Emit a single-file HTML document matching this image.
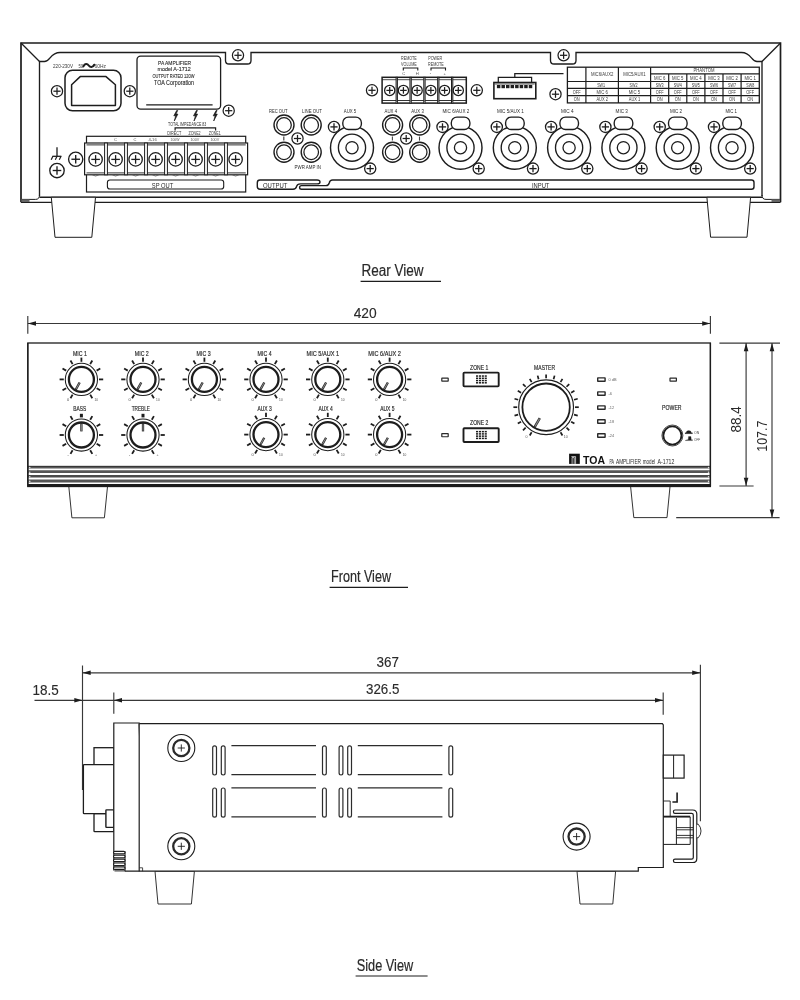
<!DOCTYPE html>
<html lang="en">
<head>
<meta charset="utf-8">
<title>PA Amplifier A-1712 - Rear, Front and Side View</title>
<style>
html,body{margin:0;padding:0;background:#fff;}
body{width:800px;height:1000px;overflow:hidden;}
svg{display:block;font-family:"Liberation Sans",sans-serif;will-change:transform;transform:translateZ(0);}
</style>
</head>
<body>
<svg width="800" height="1000" viewBox="0 0 800 1000">
<rect x="0" y="0" width="800" height="1000" fill="#ffffff"/>
<g id="rear-view">
<path d="M21,202.3 V43 H780.5 V202.3" fill="none" stroke="#1d1d1d" stroke-width="1.7" stroke-linejoin="miter"/>
<line x1="21" y1="202.4" x2="780.5" y2="202.4" stroke="#1d1d1d" stroke-width="1.3"/>
<line x1="21" y1="43" x2="39.5" y2="61.5" stroke="#1d1d1d" stroke-width="1.3"/>
<line x1="780.5" y1="43" x2="762" y2="61.5" stroke="#1d1d1d" stroke-width="1.3"/>
<path d="M39.5,196 V61.5 H44.5 C50.5,61.5 50,52.5 60,52.5 H225.5 V60.5 Q225.5,64 229,64 H247.5 Q251,64 251,60.5 V52.5 H550.5 V60.5 Q550.5,64 554,64 H572.5 Q576,64 576,60.5 V52.5 H741.5 C751.5,52.5 751,61.5 757,61.5 H762 V196" fill="none" stroke="#1d1d1d" stroke-width="1.35"/>
<path d="M39.5,195 Q39.5,199.4 35.5,199.4 H22" fill="none" stroke="#1d1d1d" stroke-width="1"/>
<path d="M762,195 Q762,199.4 766,199.4 H780" fill="none" stroke="#1d1d1d" stroke-width="1"/>
<rect x="21.5" y="199.4" width="8" height="2.6" rx="0" fill="#666" stroke="none" stroke-width="0"/>
<rect x="771.5" y="199.4" width="8.5" height="2.6" rx="0" fill="#666" stroke="none" stroke-width="0"/>
<line x1="39.5" y1="197.3" x2="762" y2="197.3" stroke="#1d1d1d" stroke-width="1.4"/>
<polygon points="51.3,197.25 55,237.3 91.8,237.3 95.5,197.25" fill="#fff" stroke="#1d1d1d" stroke-width="1"/>
<polygon points="706.9,197.25 710.6,237.2 747,237.2 750.6,197.25" fill="#fff" stroke="#1d1d1d" stroke-width="1"/>
<circle cx="238" cy="55.3" r="5.6" fill="#fff" stroke="#1d1d1d" stroke-width="1.25"/>
<line x1="234.4" y1="55.3" x2="241.6" y2="55.3" stroke="#1d1d1d" stroke-width="1.25"/>
<line x1="238" y1="51.7" x2="238" y2="58.9" stroke="#1d1d1d" stroke-width="1.25"/>
<circle cx="563.6" cy="55.3" r="5.6" fill="#fff" stroke="#1d1d1d" stroke-width="1.25"/>
<line x1="560" y1="55.3" x2="567.2" y2="55.3" stroke="#1d1d1d" stroke-width="1.25"/>
<line x1="563.6" y1="51.7" x2="563.6" y2="58.9" stroke="#1d1d1d" stroke-width="1.25"/>
<text x="53" y="67.6" font-size="6" text-anchor="start" fill="#3a3a3a" textLength="20" lengthAdjust="spacingAndGlyphs">220-230V</text>
<text x="78.4" y="67.6" font-size="6" text-anchor="start" fill="#3a3a3a" textLength="4.8" lengthAdjust="spacingAndGlyphs">50</text>
<text x="94.6" y="67.6" font-size="6" text-anchor="start" fill="#3a3a3a" textLength="11.4" lengthAdjust="spacingAndGlyphs">60Hz</text>
<path d="M83.4,66.4 C84.8,63.4 87.2,63.4 88.7,65.5 S92.8,67.8 94.2,64.8" fill="none" stroke="#1d1d1d" stroke-width="2.1" stroke-linecap="round"/>
<rect x="65" y="70.3" width="56" height="40.5" rx="7.5" fill="none" stroke="#1d1d1d" stroke-width="1.5"/>
<path d="M71.6,105.4 V84.8 L80.2,76.6 H106 L115.4,84.8 V105.4 Z" fill="none" stroke="#1d1d1d" stroke-width="1.5" stroke-linejoin="round"/>
<circle cx="57" cy="91.2" r="5.6" fill="#fff" stroke="#1d1d1d" stroke-width="1.25"/>
<line x1="53.4" y1="91.2" x2="60.6" y2="91.2" stroke="#1d1d1d" stroke-width="1.25"/>
<line x1="57" y1="87.6" x2="57" y2="94.8" stroke="#1d1d1d" stroke-width="1.25"/>
<circle cx="129.8" cy="91.2" r="5.6" fill="#fff" stroke="#1d1d1d" stroke-width="1.25"/>
<line x1="126.2" y1="91.2" x2="133.4" y2="91.2" stroke="#1d1d1d" stroke-width="1.25"/>
<line x1="129.8" y1="87.6" x2="129.8" y2="94.8" stroke="#1d1d1d" stroke-width="1.25"/>
<rect x="137" y="56.2" width="83.6" height="52.9" rx="3.6" fill="none" stroke="#1d1d1d" stroke-width="1.3"/>
<line x1="146.2" y1="104.8" x2="212.6" y2="104.8" stroke="#1d1d1d" stroke-width="1.3"/>
<text x="174.5" y="64.8" font-size="6.1" text-anchor="middle" fill="#2a2a2a" textLength="33" lengthAdjust="spacingAndGlyphs" stroke="#2a2a2a" stroke-width="0.12">PA AMPLIFIER</text>
<text x="174.1" y="71" font-size="6.1" text-anchor="middle" fill="#2a2a2a" textLength="33.2" lengthAdjust="spacingAndGlyphs" stroke="#2a2a2a" stroke-width="0.12">model A-1712</text>
<text x="173.5" y="77.5" font-size="5.2" text-anchor="middle" fill="#2a2a2a" textLength="42" lengthAdjust="spacingAndGlyphs" stroke="#2a2a2a" stroke-width="0.1">OUTPUT RATED 120W</text>
<text x="174" y="84.5" font-size="7.2" text-anchor="middle" fill="#2a2a2a" textLength="40" lengthAdjust="spacingAndGlyphs" stroke="#2a2a2a" stroke-width="0.12">TOA Corporation</text>
<circle cx="228.7" cy="110.7" r="5.6" fill="#fff" stroke="#1d1d1d" stroke-width="1.25"/>
<line x1="225.1" y1="110.7" x2="232.3" y2="110.7" stroke="#1d1d1d" stroke-width="1.25"/>
<line x1="228.7" y1="107.1" x2="228.7" y2="114.3" stroke="#1d1d1d" stroke-width="1.25"/>
<path d="M176.7,110.5 l-2.9,5.3 h1.9 l-1.4,5.2 l3.6,-6.9 h-1.9 l1.7,-3.6 z" fill="#1d1d1d" stroke="#1d1d1d" stroke-width="0.7" stroke-linejoin="round"/>
<path d="M196.4,110.5 l-2.9,5.3 h1.9 l-1.4,5.2 l3.6,-6.9 h-1.9 l1.7,-3.6 z" fill="#1d1d1d" stroke="#1d1d1d" stroke-width="0.7" stroke-linejoin="round"/>
<path d="M216.1,110.5 l-2.9,5.3 h1.9 l-1.4,5.2 l3.6,-6.9 h-1.9 l1.7,-3.6 z" fill="#1d1d1d" stroke="#1d1d1d" stroke-width="0.7" stroke-linejoin="round"/>
<text x="187.2" y="126" font-size="4.6" text-anchor="middle" fill="#333" textLength="38.2" lengthAdjust="spacingAndGlyphs">TOTAL IMPEDANCE 83</text>
<path d="M175.1,130.4 V127.8 H215.6 V130.4" fill="none" stroke="#1d1d1d" stroke-width="1.2"/>
<text x="174.3" y="134.8" font-size="4.6" text-anchor="middle" fill="#3a3a3a" textLength="14" lengthAdjust="spacingAndGlyphs">DIRECT</text>
<text x="194.6" y="134.8" font-size="4.6" text-anchor="middle" fill="#3a3a3a" textLength="12" lengthAdjust="spacingAndGlyphs">ZONE2</text>
<text x="214.7" y="134.8" font-size="4.6" text-anchor="middle" fill="#3a3a3a" textLength="12" lengthAdjust="spacingAndGlyphs">ZONE1</text>
<rect x="86.5" y="136.3" width="159.2" height="55.7" rx="0" fill="#fff" stroke="#1d1d1d" stroke-width="1.2"/>
<rect x="84.6" y="143" width="163" height="31.8" rx="0" fill="#fff" stroke="#1d1d1d" stroke-width="1.2"/>
<line x1="86.5" y1="144.9" x2="245.7" y2="144.9" stroke="#1d1d1d" stroke-width="0.9"/>
<line x1="86.5" y1="172.9" x2="245.7" y2="172.9" stroke="#1d1d1d" stroke-width="0.9"/>
<rect x="104.6" y="143" width="2.8" height="31.8" rx="0" fill="#fff" stroke="#1d1d1d" stroke-width="1"/>
<rect x="124.6" y="143" width="2.8" height="31.8" rx="0" fill="#fff" stroke="#1d1d1d" stroke-width="1"/>
<rect x="144.6" y="143" width="2.8" height="31.8" rx="0" fill="#fff" stroke="#1d1d1d" stroke-width="1"/>
<rect x="164.6" y="143" width="2.8" height="31.8" rx="0" fill="#fff" stroke="#1d1d1d" stroke-width="1"/>
<rect x="184.6" y="143" width="2.8" height="31.8" rx="0" fill="#fff" stroke="#1d1d1d" stroke-width="1"/>
<rect x="204.6" y="143" width="2.8" height="31.8" rx="0" fill="#fff" stroke="#1d1d1d" stroke-width="1"/>
<rect x="224.6" y="143" width="2.8" height="31.8" rx="0" fill="#fff" stroke="#1d1d1d" stroke-width="1"/>
<circle cx="95.6" cy="159.4" r="6.7" fill="#fff" stroke="#1d1d1d" stroke-width="1.3"/>
<line x1="91.3" y1="159.4" x2="99.9" y2="159.4" stroke="#1d1d1d" stroke-width="1.3"/>
<line x1="95.6" y1="155.1" x2="95.6" y2="163.7" stroke="#1d1d1d" stroke-width="1.3"/>
<path d="M92.4,174.9 q3.2,2.2 6.4,0" fill="none" stroke="#555" stroke-width="0.8"/>
<circle cx="115.6" cy="159.4" r="6.7" fill="#fff" stroke="#1d1d1d" stroke-width="1.3"/>
<line x1="111.3" y1="159.4" x2="119.9" y2="159.4" stroke="#1d1d1d" stroke-width="1.3"/>
<line x1="115.6" y1="155.1" x2="115.6" y2="163.7" stroke="#1d1d1d" stroke-width="1.3"/>
<path d="M112.4,174.9 q3.2,2.2 6.4,0" fill="none" stroke="#555" stroke-width="0.8"/>
<circle cx="135.6" cy="159.4" r="6.7" fill="#fff" stroke="#1d1d1d" stroke-width="1.3"/>
<line x1="131.3" y1="159.4" x2="139.9" y2="159.4" stroke="#1d1d1d" stroke-width="1.3"/>
<line x1="135.6" y1="155.1" x2="135.6" y2="163.7" stroke="#1d1d1d" stroke-width="1.3"/>
<path d="M132.4,174.9 q3.2,2.2 6.4,0" fill="none" stroke="#555" stroke-width="0.8"/>
<circle cx="155.6" cy="159.4" r="6.7" fill="#fff" stroke="#1d1d1d" stroke-width="1.3"/>
<line x1="151.3" y1="159.4" x2="159.9" y2="159.4" stroke="#1d1d1d" stroke-width="1.3"/>
<line x1="155.6" y1="155.1" x2="155.6" y2="163.7" stroke="#1d1d1d" stroke-width="1.3"/>
<path d="M152.4,174.9 q3.2,2.2 6.4,0" fill="none" stroke="#555" stroke-width="0.8"/>
<circle cx="175.6" cy="159.4" r="6.7" fill="#fff" stroke="#1d1d1d" stroke-width="1.3"/>
<line x1="171.3" y1="159.4" x2="179.9" y2="159.4" stroke="#1d1d1d" stroke-width="1.3"/>
<line x1="175.6" y1="155.1" x2="175.6" y2="163.7" stroke="#1d1d1d" stroke-width="1.3"/>
<path d="M172.4,174.9 q3.2,2.2 6.4,0" fill="none" stroke="#555" stroke-width="0.8"/>
<circle cx="195.6" cy="159.4" r="6.7" fill="#fff" stroke="#1d1d1d" stroke-width="1.3"/>
<line x1="191.3" y1="159.4" x2="199.9" y2="159.4" stroke="#1d1d1d" stroke-width="1.3"/>
<line x1="195.6" y1="155.1" x2="195.6" y2="163.7" stroke="#1d1d1d" stroke-width="1.3"/>
<path d="M192.4,174.9 q3.2,2.2 6.4,0" fill="none" stroke="#555" stroke-width="0.8"/>
<circle cx="215.6" cy="159.4" r="6.7" fill="#fff" stroke="#1d1d1d" stroke-width="1.3"/>
<line x1="211.3" y1="159.4" x2="219.9" y2="159.4" stroke="#1d1d1d" stroke-width="1.3"/>
<line x1="215.6" y1="155.1" x2="215.6" y2="163.7" stroke="#1d1d1d" stroke-width="1.3"/>
<path d="M212.4,174.9 q3.2,2.2 6.4,0" fill="none" stroke="#555" stroke-width="0.8"/>
<circle cx="235.6" cy="159.4" r="6.7" fill="#fff" stroke="#1d1d1d" stroke-width="1.3"/>
<line x1="231.3" y1="159.4" x2="239.9" y2="159.4" stroke="#1d1d1d" stroke-width="1.3"/>
<line x1="235.6" y1="155.1" x2="235.6" y2="163.7" stroke="#1d1d1d" stroke-width="1.3"/>
<path d="M232.4,174.9 q3.2,2.2 6.4,0" fill="none" stroke="#555" stroke-width="0.8"/>
<text x="115.6" y="140.8" font-size="4.1" text-anchor="middle" fill="#555">C</text>
<text x="135" y="140.8" font-size="4.1" text-anchor="middle" fill="#555">C</text>
<text x="152.6" y="140.8" font-size="4.1" text-anchor="middle" fill="#555" textLength="8.4" lengthAdjust="spacingAndGlyphs">4-16</text>
<text x="175" y="140.8" font-size="4.1" text-anchor="middle" fill="#555" textLength="8.8" lengthAdjust="spacingAndGlyphs">100W</text>
<text x="194.9" y="140.8" font-size="4.1" text-anchor="middle" fill="#555" textLength="8.8" lengthAdjust="spacingAndGlyphs">100V</text>
<text x="214.8" y="140.8" font-size="4.1" text-anchor="middle" fill="#555" textLength="8.8" lengthAdjust="spacingAndGlyphs">100V</text>
<rect x="107.4" y="180" width="116.3" height="9" rx="2.6" fill="none" stroke="#1d1d1d" stroke-width="1.1"/>
<text x="162.6" y="187.6" font-size="7.6" text-anchor="middle" fill="#2a2a2a" textLength="21.5" lengthAdjust="spacingAndGlyphs">SP OUT</text>
<circle cx="75.7" cy="159.25" r="7.1" fill="#fff" stroke="#1d1d1d" stroke-width="1.35"/>
<line x1="71.4" y1="159.25" x2="80" y2="159.25" stroke="#1d1d1d" stroke-width="1.35"/>
<line x1="75.7" y1="154.95" x2="75.7" y2="163.55" stroke="#1d1d1d" stroke-width="1.35"/>
<line x1="57" y1="147.2" x2="57" y2="156.3" stroke="#1d1d1d" stroke-width="1.3"/>
<line x1="52.4" y1="156.3" x2="61.4" y2="156.3" stroke="#1d1d1d" stroke-width="1.3"/>
<line x1="52.9" y1="156.3" x2="51.2" y2="159.8" stroke="#1d1d1d" stroke-width="1.2"/>
<line x1="57" y1="156.3" x2="55.3" y2="159.8" stroke="#1d1d1d" stroke-width="1.2"/>
<line x1="61" y1="156.3" x2="59.3" y2="159.8" stroke="#1d1d1d" stroke-width="1.2"/>
<circle cx="57" cy="170.5" r="7.2" fill="#fff" stroke="#1d1d1d" stroke-width="1.35"/>
<line x1="52.7" y1="170.5" x2="61.3" y2="170.5" stroke="#1d1d1d" stroke-width="1.35"/>
<line x1="57" y1="166.2" x2="57" y2="174.8" stroke="#1d1d1d" stroke-width="1.35"/>
<circle cx="284" cy="125" r="10" fill="#fff" stroke="#1d1d1d" stroke-width="1.4"/>
<circle cx="284" cy="125" r="7.3" fill="none" stroke="#1d1d1d" stroke-width="1.25"/>
<circle cx="284" cy="152.2" r="10" fill="#fff" stroke="#1d1d1d" stroke-width="1.4"/>
<circle cx="284" cy="152.2" r="7.3" fill="none" stroke="#1d1d1d" stroke-width="1.25"/>
<circle cx="311.2" cy="125" r="10" fill="#fff" stroke="#1d1d1d" stroke-width="1.4"/>
<circle cx="311.2" cy="125" r="7.3" fill="none" stroke="#1d1d1d" stroke-width="1.25"/>
<circle cx="311.2" cy="152.2" r="10" fill="#fff" stroke="#1d1d1d" stroke-width="1.4"/>
<circle cx="311.2" cy="152.2" r="7.3" fill="none" stroke="#1d1d1d" stroke-width="1.25"/>
<line x1="283.8" y1="136.6" x2="283.8" y2="140.6" stroke="#444" stroke-width="1.2"/>
<circle cx="297.5" cy="138.5" r="5.6" fill="#fff" stroke="#1d1d1d" stroke-width="1.25"/>
<line x1="293.9" y1="138.5" x2="301.1" y2="138.5" stroke="#1d1d1d" stroke-width="1.25"/>
<line x1="297.5" y1="134.9" x2="297.5" y2="142.1" stroke="#1d1d1d" stroke-width="1.25"/>
<text x="278.3" y="112.6" font-size="5.7" text-anchor="middle" fill="#2a2a2a" textLength="18.5" lengthAdjust="spacingAndGlyphs">REC OUT</text>
<text x="312" y="112.6" font-size="5.7" text-anchor="middle" fill="#2a2a2a" textLength="20" lengthAdjust="spacingAndGlyphs">LINE OUT</text>
<text x="307.8" y="169" font-size="5.7" text-anchor="middle" fill="#2a2a2a" textLength="26.5" lengthAdjust="spacingAndGlyphs">PWR AMP IN</text>
<circle cx="352" cy="147.7" r="21.5" fill="#fff" stroke="#1d1d1d" stroke-width="1.45"/>
<circle cx="352" cy="147.7" r="13.6" fill="none" stroke="#1d1d1d" stroke-width="1.35"/>
<circle cx="352" cy="147.7" r="6.1" fill="none" stroke="#1d1d1d" stroke-width="1.3"/>
<rect x="342.8" y="117.1" width="18.6" height="12.4" rx="5.6" fill="#fff" stroke="#1d1d1d" stroke-width="1.35"/>
<circle cx="334" cy="126.9" r="5.6" fill="#fff" stroke="#1d1d1d" stroke-width="1.3"/>
<line x1="330.4" y1="126.9" x2="337.6" y2="126.9" stroke="#1d1d1d" stroke-width="1.3"/>
<line x1="334" y1="123.3" x2="334" y2="130.5" stroke="#1d1d1d" stroke-width="1.3"/>
<circle cx="370.2" cy="168.6" r="5.6" fill="#fff" stroke="#1d1d1d" stroke-width="1.3"/>
<line x1="366.6" y1="168.6" x2="373.8" y2="168.6" stroke="#1d1d1d" stroke-width="1.3"/>
<line x1="370.2" y1="165" x2="370.2" y2="172.2" stroke="#1d1d1d" stroke-width="1.3"/>
<circle cx="460.5" cy="147.7" r="21.5" fill="#fff" stroke="#1d1d1d" stroke-width="1.45"/>
<circle cx="460.5" cy="147.7" r="13.6" fill="none" stroke="#1d1d1d" stroke-width="1.35"/>
<circle cx="460.5" cy="147.7" r="6.1" fill="none" stroke="#1d1d1d" stroke-width="1.3"/>
<rect x="451.3" y="117.1" width="18.6" height="12.4" rx="5.6" fill="#fff" stroke="#1d1d1d" stroke-width="1.35"/>
<circle cx="442.5" cy="126.9" r="5.6" fill="#fff" stroke="#1d1d1d" stroke-width="1.3"/>
<line x1="438.9" y1="126.9" x2="446.1" y2="126.9" stroke="#1d1d1d" stroke-width="1.3"/>
<line x1="442.5" y1="123.3" x2="442.5" y2="130.5" stroke="#1d1d1d" stroke-width="1.3"/>
<circle cx="478.7" cy="168.6" r="5.6" fill="#fff" stroke="#1d1d1d" stroke-width="1.3"/>
<line x1="475.1" y1="168.6" x2="482.3" y2="168.6" stroke="#1d1d1d" stroke-width="1.3"/>
<line x1="478.7" y1="165" x2="478.7" y2="172.2" stroke="#1d1d1d" stroke-width="1.3"/>
<circle cx="514.8" cy="147.7" r="21.5" fill="#fff" stroke="#1d1d1d" stroke-width="1.45"/>
<circle cx="514.8" cy="147.7" r="13.6" fill="none" stroke="#1d1d1d" stroke-width="1.35"/>
<circle cx="514.8" cy="147.7" r="6.1" fill="none" stroke="#1d1d1d" stroke-width="1.3"/>
<rect x="505.6" y="117.1" width="18.6" height="12.4" rx="5.6" fill="#fff" stroke="#1d1d1d" stroke-width="1.35"/>
<circle cx="496.8" cy="126.9" r="5.6" fill="#fff" stroke="#1d1d1d" stroke-width="1.3"/>
<line x1="493.2" y1="126.9" x2="500.4" y2="126.9" stroke="#1d1d1d" stroke-width="1.3"/>
<line x1="496.8" y1="123.3" x2="496.8" y2="130.5" stroke="#1d1d1d" stroke-width="1.3"/>
<circle cx="533" cy="168.6" r="5.6" fill="#fff" stroke="#1d1d1d" stroke-width="1.3"/>
<line x1="529.4" y1="168.6" x2="536.6" y2="168.6" stroke="#1d1d1d" stroke-width="1.3"/>
<line x1="533" y1="165" x2="533" y2="172.2" stroke="#1d1d1d" stroke-width="1.3"/>
<circle cx="569.1" cy="147.7" r="21.5" fill="#fff" stroke="#1d1d1d" stroke-width="1.45"/>
<circle cx="569.1" cy="147.7" r="13.6" fill="none" stroke="#1d1d1d" stroke-width="1.35"/>
<circle cx="569.1" cy="147.7" r="6.1" fill="none" stroke="#1d1d1d" stroke-width="1.3"/>
<rect x="559.9" y="117.1" width="18.6" height="12.4" rx="5.6" fill="#fff" stroke="#1d1d1d" stroke-width="1.35"/>
<circle cx="551.1" cy="126.9" r="5.6" fill="#fff" stroke="#1d1d1d" stroke-width="1.3"/>
<line x1="547.5" y1="126.9" x2="554.7" y2="126.9" stroke="#1d1d1d" stroke-width="1.3"/>
<line x1="551.1" y1="123.3" x2="551.1" y2="130.5" stroke="#1d1d1d" stroke-width="1.3"/>
<circle cx="587.3" cy="168.6" r="5.6" fill="#fff" stroke="#1d1d1d" stroke-width="1.3"/>
<line x1="583.7" y1="168.6" x2="590.9" y2="168.6" stroke="#1d1d1d" stroke-width="1.3"/>
<line x1="587.3" y1="165" x2="587.3" y2="172.2" stroke="#1d1d1d" stroke-width="1.3"/>
<circle cx="623.4" cy="147.7" r="21.5" fill="#fff" stroke="#1d1d1d" stroke-width="1.45"/>
<circle cx="623.4" cy="147.7" r="13.6" fill="none" stroke="#1d1d1d" stroke-width="1.35"/>
<circle cx="623.4" cy="147.7" r="6.1" fill="none" stroke="#1d1d1d" stroke-width="1.3"/>
<rect x="614.2" y="117.1" width="18.6" height="12.4" rx="5.6" fill="#fff" stroke="#1d1d1d" stroke-width="1.35"/>
<circle cx="605.4" cy="126.9" r="5.6" fill="#fff" stroke="#1d1d1d" stroke-width="1.3"/>
<line x1="601.8" y1="126.9" x2="609" y2="126.9" stroke="#1d1d1d" stroke-width="1.3"/>
<line x1="605.4" y1="123.3" x2="605.4" y2="130.5" stroke="#1d1d1d" stroke-width="1.3"/>
<circle cx="641.6" cy="168.6" r="5.6" fill="#fff" stroke="#1d1d1d" stroke-width="1.3"/>
<line x1="638" y1="168.6" x2="645.2" y2="168.6" stroke="#1d1d1d" stroke-width="1.3"/>
<line x1="641.6" y1="165" x2="641.6" y2="172.2" stroke="#1d1d1d" stroke-width="1.3"/>
<circle cx="677.7" cy="147.7" r="21.5" fill="#fff" stroke="#1d1d1d" stroke-width="1.45"/>
<circle cx="677.7" cy="147.7" r="13.6" fill="none" stroke="#1d1d1d" stroke-width="1.35"/>
<circle cx="677.7" cy="147.7" r="6.1" fill="none" stroke="#1d1d1d" stroke-width="1.3"/>
<rect x="668.5" y="117.1" width="18.6" height="12.4" rx="5.6" fill="#fff" stroke="#1d1d1d" stroke-width="1.35"/>
<circle cx="659.7" cy="126.9" r="5.6" fill="#fff" stroke="#1d1d1d" stroke-width="1.3"/>
<line x1="656.1" y1="126.9" x2="663.3" y2="126.9" stroke="#1d1d1d" stroke-width="1.3"/>
<line x1="659.7" y1="123.3" x2="659.7" y2="130.5" stroke="#1d1d1d" stroke-width="1.3"/>
<circle cx="695.9" cy="168.6" r="5.6" fill="#fff" stroke="#1d1d1d" stroke-width="1.3"/>
<line x1="692.3" y1="168.6" x2="699.5" y2="168.6" stroke="#1d1d1d" stroke-width="1.3"/>
<line x1="695.9" y1="165" x2="695.9" y2="172.2" stroke="#1d1d1d" stroke-width="1.3"/>
<circle cx="732" cy="147.7" r="21.5" fill="#fff" stroke="#1d1d1d" stroke-width="1.45"/>
<circle cx="732" cy="147.7" r="13.6" fill="none" stroke="#1d1d1d" stroke-width="1.35"/>
<circle cx="732" cy="147.7" r="6.1" fill="none" stroke="#1d1d1d" stroke-width="1.3"/>
<rect x="722.8" y="117.1" width="18.6" height="12.4" rx="5.6" fill="#fff" stroke="#1d1d1d" stroke-width="1.35"/>
<circle cx="714" cy="126.9" r="5.6" fill="#fff" stroke="#1d1d1d" stroke-width="1.3"/>
<line x1="710.4" y1="126.9" x2="717.6" y2="126.9" stroke="#1d1d1d" stroke-width="1.3"/>
<line x1="714" y1="123.3" x2="714" y2="130.5" stroke="#1d1d1d" stroke-width="1.3"/>
<circle cx="750.2" cy="168.6" r="5.6" fill="#fff" stroke="#1d1d1d" stroke-width="1.3"/>
<line x1="746.6" y1="168.6" x2="753.8" y2="168.6" stroke="#1d1d1d" stroke-width="1.3"/>
<line x1="750.2" y1="165" x2="750.2" y2="172.2" stroke="#1d1d1d" stroke-width="1.3"/>
<text x="350" y="112.6" font-size="5.7" text-anchor="middle" fill="#2a2a2a" textLength="12.5" lengthAdjust="spacingAndGlyphs">AUX 5</text>
<text x="455.9" y="112.6" font-size="5.7" text-anchor="middle" fill="#2a2a2a" textLength="26.8" lengthAdjust="spacingAndGlyphs">MIC 6/AUX 2</text>
<text x="510.4" y="112.6" font-size="5.7" text-anchor="middle" fill="#2a2a2a" textLength="26.8" lengthAdjust="spacingAndGlyphs">MIC 5/AUX 1</text>
<text x="567.4" y="112.6" font-size="5.7" text-anchor="middle" fill="#2a2a2a" textLength="12.6" lengthAdjust="spacingAndGlyphs">MIC 4</text>
<text x="621.7" y="112.6" font-size="5.7" text-anchor="middle" fill="#2a2a2a" textLength="12.2" lengthAdjust="spacingAndGlyphs">MIC 3</text>
<text x="676" y="112.6" font-size="5.7" text-anchor="middle" fill="#2a2a2a" textLength="12.2" lengthAdjust="spacingAndGlyphs">MIC 2</text>
<text x="731.2" y="112.6" font-size="5.7" text-anchor="middle" fill="#2a2a2a" textLength="11.6" lengthAdjust="spacingAndGlyphs">MIC 1</text>
<circle cx="392.6" cy="125" r="10" fill="#fff" stroke="#1d1d1d" stroke-width="1.4"/>
<circle cx="392.6" cy="125" r="7.3" fill="none" stroke="#1d1d1d" stroke-width="1.25"/>
<circle cx="392.6" cy="152.2" r="10" fill="#fff" stroke="#1d1d1d" stroke-width="1.4"/>
<circle cx="392.6" cy="152.2" r="7.3" fill="none" stroke="#1d1d1d" stroke-width="1.25"/>
<line x1="392.4" y1="136.6" x2="392.4" y2="140.6" stroke="#444" stroke-width="1.1"/>
<circle cx="419.7" cy="125" r="10" fill="#fff" stroke="#1d1d1d" stroke-width="1.4"/>
<circle cx="419.7" cy="125" r="7.3" fill="none" stroke="#1d1d1d" stroke-width="1.25"/>
<circle cx="419.7" cy="152.2" r="10" fill="#fff" stroke="#1d1d1d" stroke-width="1.4"/>
<circle cx="419.7" cy="152.2" r="7.3" fill="none" stroke="#1d1d1d" stroke-width="1.25"/>
<line x1="419.5" y1="136.6" x2="419.5" y2="140.6" stroke="#444" stroke-width="1.1"/>
<circle cx="406.2" cy="138.5" r="5.6" fill="#fff" stroke="#1d1d1d" stroke-width="1.25"/>
<line x1="402.6" y1="138.5" x2="409.8" y2="138.5" stroke="#1d1d1d" stroke-width="1.25"/>
<line x1="406.2" y1="134.9" x2="406.2" y2="142.1" stroke="#1d1d1d" stroke-width="1.25"/>
<text x="390.8" y="112.6" font-size="5.7" text-anchor="middle" fill="#2a2a2a" textLength="12.5" lengthAdjust="spacingAndGlyphs">AUX 4</text>
<text x="417.6" y="112.6" font-size="5.7" text-anchor="middle" fill="#2a2a2a" textLength="12.5" lengthAdjust="spacingAndGlyphs">AUX 3</text>
<rect x="382.1" y="77.3" width="84.2" height="25.8" rx="0" fill="#fff" stroke="#1d1d1d" stroke-width="1.5"/>
<line x1="382" y1="79.7" x2="466.3" y2="79.7" stroke="#1d1d1d" stroke-width="0.8"/>
<line x1="382" y1="100.5" x2="466.3" y2="100.5" stroke="#1d1d1d" stroke-width="0.9"/>
<rect x="396.1" y="77.3" width="1.3" height="25.8" rx="0" fill="#ddd" stroke="#1d1d1d" stroke-width="1"/>
<rect x="409.95" y="77.3" width="1.3" height="25.8" rx="0" fill="#ddd" stroke="#1d1d1d" stroke-width="1"/>
<rect x="423.8" y="77.3" width="1.3" height="25.8" rx="0" fill="#ddd" stroke="#1d1d1d" stroke-width="1"/>
<rect x="437.65" y="77.3" width="1.3" height="25.8" rx="0" fill="#ddd" stroke="#1d1d1d" stroke-width="1"/>
<rect x="451.5" y="77.3" width="1.3" height="25.8" rx="0" fill="#ddd" stroke="#1d1d1d" stroke-width="1"/>
<circle cx="389.7" cy="90.4" r="5.1" fill="#fff" stroke="#1d1d1d" stroke-width="1.25"/>
<line x1="386.4" y1="90.4" x2="393" y2="90.4" stroke="#1d1d1d" stroke-width="1.25"/>
<line x1="389.7" y1="87.1" x2="389.7" y2="93.7" stroke="#1d1d1d" stroke-width="1.25"/>
<circle cx="403.42" cy="90.4" r="5.1" fill="#fff" stroke="#1d1d1d" stroke-width="1.25"/>
<line x1="400.12" y1="90.4" x2="406.72" y2="90.4" stroke="#1d1d1d" stroke-width="1.25"/>
<line x1="403.42" y1="87.1" x2="403.42" y2="93.7" stroke="#1d1d1d" stroke-width="1.25"/>
<circle cx="417.14" cy="90.4" r="5.1" fill="#fff" stroke="#1d1d1d" stroke-width="1.25"/>
<line x1="413.84" y1="90.4" x2="420.44" y2="90.4" stroke="#1d1d1d" stroke-width="1.25"/>
<line x1="417.14" y1="87.1" x2="417.14" y2="93.7" stroke="#1d1d1d" stroke-width="1.25"/>
<circle cx="430.86" cy="90.4" r="5.1" fill="#fff" stroke="#1d1d1d" stroke-width="1.25"/>
<line x1="427.56" y1="90.4" x2="434.16" y2="90.4" stroke="#1d1d1d" stroke-width="1.25"/>
<line x1="430.86" y1="87.1" x2="430.86" y2="93.7" stroke="#1d1d1d" stroke-width="1.25"/>
<circle cx="444.58" cy="90.4" r="5.1" fill="#fff" stroke="#1d1d1d" stroke-width="1.25"/>
<line x1="441.28" y1="90.4" x2="447.88" y2="90.4" stroke="#1d1d1d" stroke-width="1.25"/>
<line x1="444.58" y1="87.1" x2="444.58" y2="93.7" stroke="#1d1d1d" stroke-width="1.25"/>
<circle cx="458.3" cy="90.4" r="5.1" fill="#fff" stroke="#1d1d1d" stroke-width="1.25"/>
<line x1="455" y1="90.4" x2="461.6" y2="90.4" stroke="#1d1d1d" stroke-width="1.25"/>
<line x1="458.3" y1="87.1" x2="458.3" y2="93.7" stroke="#1d1d1d" stroke-width="1.25"/>
<circle cx="372" cy="90.3" r="5.6" fill="#fff" stroke="#1d1d1d" stroke-width="1.25"/>
<line x1="368.4" y1="90.3" x2="375.6" y2="90.3" stroke="#1d1d1d" stroke-width="1.25"/>
<line x1="372" y1="86.7" x2="372" y2="93.9" stroke="#1d1d1d" stroke-width="1.25"/>
<circle cx="476.8" cy="90.3" r="5.6" fill="#fff" stroke="#1d1d1d" stroke-width="1.25"/>
<line x1="473.2" y1="90.3" x2="480.4" y2="90.3" stroke="#1d1d1d" stroke-width="1.25"/>
<line x1="476.8" y1="86.7" x2="476.8" y2="93.9" stroke="#1d1d1d" stroke-width="1.25"/>
<text x="408.9" y="59.8" font-size="5.1" text-anchor="middle" fill="#3a3a3a" textLength="15.6" lengthAdjust="spacingAndGlyphs">REMOTE</text>
<text x="408.9" y="65.6" font-size="5.1" text-anchor="middle" fill="#3a3a3a" textLength="15.6" lengthAdjust="spacingAndGlyphs">VOLUME</text>
<text x="435.2" y="59.8" font-size="5.1" text-anchor="middle" fill="#3a3a3a" textLength="14" lengthAdjust="spacingAndGlyphs">POWER</text>
<text x="435.9" y="65.6" font-size="5.1" text-anchor="middle" fill="#3a3a3a" textLength="15.6" lengthAdjust="spacingAndGlyphs">REMOTE</text>
<path d="M403.3,70.4 V68 H417.8 V70.4" fill="none" stroke="#1d1d1d" stroke-width="1.1"/>
<path d="M431,70.4 V68 H445.5 V70.4" fill="none" stroke="#1d1d1d" stroke-width="1.1"/>
<text x="403.8" y="74.8" font-size="4.2" text-anchor="middle" fill="#555">C</text>
<text x="417.2" y="74.8" font-size="4.2" text-anchor="middle" fill="#555">H</text>
<text x="430.4" y="74.4" font-size="4.2" text-anchor="middle" fill="#555">-</text>
<text x="444.8" y="74.8" font-size="4.2" text-anchor="middle" fill="#555">+</text>
<rect x="493.9" y="82.5" width="41.9" height="16.2" rx="0" fill="#fff" stroke="#1d1d1d" stroke-width="1.6"/>
<rect x="496.9" y="85" width="3.5" height="3.2" rx="0" fill="#1d1d1d" stroke="none" stroke-width="0"/>
<rect x="501.45" y="85" width="3.5" height="3.2" rx="0" fill="#1d1d1d" stroke="none" stroke-width="0"/>
<rect x="506" y="85" width="3.5" height="3.2" rx="0" fill="#1d1d1d" stroke="none" stroke-width="0"/>
<rect x="510.55" y="85" width="3.5" height="3.2" rx="0" fill="#1d1d1d" stroke="none" stroke-width="0"/>
<rect x="515.1" y="85" width="3.5" height="3.2" rx="0" fill="#1d1d1d" stroke="none" stroke-width="0"/>
<rect x="519.65" y="85" width="3.5" height="3.2" rx="0" fill="#1d1d1d" stroke="none" stroke-width="0"/>
<rect x="524.2" y="85" width="3.5" height="3.2" rx="0" fill="#1d1d1d" stroke="none" stroke-width="0"/>
<rect x="528.75" y="85" width="3.5" height="3.2" rx="0" fill="#1d1d1d" stroke="none" stroke-width="0"/>
<line x1="495" y1="84" x2="534.6" y2="84" stroke="#555" stroke-width="1"/>
<path d="M498.3,82.5 V77.4 H531.6 V82.5" fill="none" stroke="#1d1d1d" stroke-width="1.25"/>
<path d="M514.8,77.4 V73.5 H563.5" fill="none" stroke="#1d1d1d" stroke-width="1.25"/>
<circle cx="555.5" cy="94.2" r="5.6" fill="#fff" stroke="#1d1d1d" stroke-width="1.25"/>
<line x1="551.9" y1="94.2" x2="559.1" y2="94.2" stroke="#1d1d1d" stroke-width="1.25"/>
<line x1="555.5" y1="90.6" x2="555.5" y2="97.8" stroke="#1d1d1d" stroke-width="1.25"/>
<rect x="567.4" y="67.2" width="191.9" height="35.7" rx="0" fill="none" stroke="#1d1d1d" stroke-width="1.3"/>
<line x1="585.9" y1="67.2" x2="585.9" y2="102.9" stroke="#1d1d1d" stroke-width="1.2"/>
<line x1="618.4" y1="67.2" x2="618.4" y2="102.9" stroke="#1d1d1d" stroke-width="1.2"/>
<line x1="650.6" y1="67.2" x2="650.6" y2="102.9" stroke="#1d1d1d" stroke-width="1.2"/>
<line x1="668.7" y1="73.9" x2="668.7" y2="102.9" stroke="#1d1d1d" stroke-width="1.2"/>
<line x1="686.8" y1="73.9" x2="686.8" y2="102.9" stroke="#1d1d1d" stroke-width="1.2"/>
<line x1="704.9" y1="73.9" x2="704.9" y2="102.9" stroke="#1d1d1d" stroke-width="1.2"/>
<line x1="723" y1="73.9" x2="723" y2="102.9" stroke="#1d1d1d" stroke-width="1.2"/>
<line x1="741.1" y1="73.9" x2="741.1" y2="102.9" stroke="#1d1d1d" stroke-width="1.2"/>
<line x1="650.6" y1="73.9" x2="759.3" y2="73.9" stroke="#1d1d1d" stroke-width="1.1"/>
<line x1="567.4" y1="81.5" x2="759.3" y2="81.5" stroke="#1d1d1d" stroke-width="1.2"/>
<line x1="567.4" y1="88.4" x2="759.3" y2="88.4" stroke="#1d1d1d" stroke-width="1.2"/>
<line x1="567.4" y1="95.6" x2="759.3" y2="95.6" stroke="#1d1d1d" stroke-width="1.2"/>
<text x="602.15" y="76.4" font-size="4.5" text-anchor="middle" fill="#3a3a3a" textLength="22.5" lengthAdjust="spacingAndGlyphs">MIC6/AUX2</text>
<text x="634.5" y="76.4" font-size="4.5" text-anchor="middle" fill="#3a3a3a" textLength="22.5" lengthAdjust="spacingAndGlyphs">MIC5/AUX1</text>
<text x="703.95" y="72.3" font-size="4.5" text-anchor="middle" fill="#3a3a3a" textLength="21" lengthAdjust="spacingAndGlyphs">PHANTOM</text>
<text x="659.65" y="79.7" font-size="4.5" text-anchor="middle" fill="#3a3a3a" textLength="11.5" lengthAdjust="spacingAndGlyphs">MIC 6</text>
<text x="677.75" y="79.7" font-size="4.5" text-anchor="middle" fill="#3a3a3a" textLength="11.5" lengthAdjust="spacingAndGlyphs">MIC 5</text>
<text x="695.85" y="79.7" font-size="4.5" text-anchor="middle" fill="#3a3a3a" textLength="11.5" lengthAdjust="spacingAndGlyphs">MIC 4</text>
<text x="713.95" y="79.7" font-size="4.5" text-anchor="middle" fill="#3a3a3a" textLength="11.5" lengthAdjust="spacingAndGlyphs">MIC 3</text>
<text x="732.05" y="79.7" font-size="4.5" text-anchor="middle" fill="#3a3a3a" textLength="11.5" lengthAdjust="spacingAndGlyphs">MIC 2</text>
<text x="750.2" y="79.7" font-size="4.5" text-anchor="middle" fill="#3a3a3a" textLength="11.5" lengthAdjust="spacingAndGlyphs">MIC 1</text>
<text x="601.15" y="86.8" font-size="4.5" text-anchor="middle" fill="#3a3a3a" textLength="8" lengthAdjust="spacingAndGlyphs">SW1</text>
<text x="633.5" y="86.8" font-size="4.5" text-anchor="middle" fill="#3a3a3a" textLength="8" lengthAdjust="spacingAndGlyphs">SW2</text>
<text x="659.65" y="86.8" font-size="4.5" text-anchor="middle" fill="#3a3a3a" textLength="8" lengthAdjust="spacingAndGlyphs">SW3</text>
<text x="659.65" y="93.9" font-size="4.5" text-anchor="middle" fill="#3a3a3a" textLength="7.8" lengthAdjust="spacingAndGlyphs">OFF</text>
<text x="659.65" y="101.1" font-size="4.5" text-anchor="middle" fill="#3a3a3a" textLength="6" lengthAdjust="spacingAndGlyphs">ON</text>
<text x="677.75" y="86.8" font-size="4.5" text-anchor="middle" fill="#3a3a3a" textLength="8" lengthAdjust="spacingAndGlyphs">SW4</text>
<text x="677.75" y="93.9" font-size="4.5" text-anchor="middle" fill="#3a3a3a" textLength="7.8" lengthAdjust="spacingAndGlyphs">OFF</text>
<text x="677.75" y="101.1" font-size="4.5" text-anchor="middle" fill="#3a3a3a" textLength="6" lengthAdjust="spacingAndGlyphs">ON</text>
<text x="695.85" y="86.8" font-size="4.5" text-anchor="middle" fill="#3a3a3a" textLength="8" lengthAdjust="spacingAndGlyphs">SW5</text>
<text x="695.85" y="93.9" font-size="4.5" text-anchor="middle" fill="#3a3a3a" textLength="7.8" lengthAdjust="spacingAndGlyphs">OFF</text>
<text x="695.85" y="101.1" font-size="4.5" text-anchor="middle" fill="#3a3a3a" textLength="6" lengthAdjust="spacingAndGlyphs">ON</text>
<text x="713.95" y="86.8" font-size="4.5" text-anchor="middle" fill="#3a3a3a" textLength="8" lengthAdjust="spacingAndGlyphs">SW6</text>
<text x="713.95" y="93.9" font-size="4.5" text-anchor="middle" fill="#3a3a3a" textLength="7.8" lengthAdjust="spacingAndGlyphs">OFF</text>
<text x="713.95" y="101.1" font-size="4.5" text-anchor="middle" fill="#3a3a3a" textLength="6" lengthAdjust="spacingAndGlyphs">ON</text>
<text x="732.05" y="86.8" font-size="4.5" text-anchor="middle" fill="#3a3a3a" textLength="8" lengthAdjust="spacingAndGlyphs">SW7</text>
<text x="732.05" y="93.9" font-size="4.5" text-anchor="middle" fill="#3a3a3a" textLength="7.8" lengthAdjust="spacingAndGlyphs">OFF</text>
<text x="732.05" y="101.1" font-size="4.5" text-anchor="middle" fill="#3a3a3a" textLength="6" lengthAdjust="spacingAndGlyphs">ON</text>
<text x="750.2" y="86.8" font-size="4.5" text-anchor="middle" fill="#3a3a3a" textLength="8" lengthAdjust="spacingAndGlyphs">SW8</text>
<text x="750.2" y="93.9" font-size="4.5" text-anchor="middle" fill="#3a3a3a" textLength="7.8" lengthAdjust="spacingAndGlyphs">OFF</text>
<text x="750.2" y="101.1" font-size="4.5" text-anchor="middle" fill="#3a3a3a" textLength="6" lengthAdjust="spacingAndGlyphs">ON</text>
<text x="576.65" y="93.9" font-size="4.5" text-anchor="middle" fill="#3a3a3a" textLength="7.8" lengthAdjust="spacingAndGlyphs">OFF</text>
<text x="576.65" y="101.1" font-size="4.5" text-anchor="middle" fill="#3a3a3a" textLength="6" lengthAdjust="spacingAndGlyphs">ON</text>
<text x="602.15" y="93.9" font-size="4.5" text-anchor="middle" fill="#3a3a3a" textLength="11.5" lengthAdjust="spacingAndGlyphs">MIC 6</text>
<text x="602.15" y="101.1" font-size="4.5" text-anchor="middle" fill="#3a3a3a" textLength="11.5" lengthAdjust="spacingAndGlyphs">AUX 2</text>
<text x="634.5" y="93.9" font-size="4.5" text-anchor="middle" fill="#3a3a3a" textLength="11.5" lengthAdjust="spacingAndGlyphs">MIC 5</text>
<text x="634.5" y="101.1" font-size="4.5" text-anchor="middle" fill="#3a3a3a" textLength="11.5" lengthAdjust="spacingAndGlyphs">AUX 1</text>
<path d="M260,180 H317 Q320,180 320,182 Q320,183.9 317,183.9 H300.5 Q297.2,183.9 296.6,186.4 Q296,189.2 293,189.2 H260 Q257.3,189.2 257.3,186.5 V182.7 Q257.3,180 260,180 Z" fill="none" stroke="#1d1d1d" stroke-width="1.4"/>
<text x="275.2" y="187.7" font-size="7.4" text-anchor="middle" fill="#2a2a2a" textLength="24.5" lengthAdjust="spacingAndGlyphs">OUTPUT</text>
<path d="M301.5,185.6 H326 Q328.6,185.6 329.2,183 Q329.8,180 332.6,180 H751.5 Q754,180 754,182.5 V186.7 Q754,189.2 751.5,189.2 H301.5 Q299.6,189.2 299.6,187.4 Q299.6,185.6 301.5,185.6 Z" fill="none" stroke="#1d1d1d" stroke-width="1.4"/>
<text x="540.7" y="187.7" font-size="7.4" text-anchor="middle" fill="#2a2a2a" textLength="17.5" lengthAdjust="spacingAndGlyphs">INPUT</text>
<text x="392.4" y="276.4" font-size="16" text-anchor="middle" fill="#2a2a2a" textLength="62" lengthAdjust="spacingAndGlyphs" stroke="#2a2a2a" stroke-width="0.2">Rear View</text>
<line x1="360.6" y1="281.4" x2="441" y2="281.4" stroke="#1d1d1d" stroke-width="1.1"/>
</g>
<g id="front-view">
<line x1="27.8" y1="316" x2="27.8" y2="333.8" stroke="#383838" stroke-width="1.15"/>
<line x1="710.4" y1="316" x2="710.4" y2="333.8" stroke="#383838" stroke-width="1.15"/>
<line x1="27.8" y1="323.5" x2="710.4" y2="323.5" stroke="#383838" stroke-width="1.15"/>
<polygon points="27.8,323.5 36,321.2 36,325.8" fill="#1d1d1d"/>
<polygon points="710.4,323.5 702.2,321.2 702.2,325.8" fill="#1d1d1d"/>
<text x="365.2" y="318" font-size="13.9" text-anchor="middle" fill="#2a2a2a" textLength="23" lengthAdjust="spacingAndGlyphs" stroke="#2a2a2a" stroke-width="0.12">420</text>
<polygon points="68.8,486.5 71.9,517.8 104.4,517.8 107.5,486.5" fill="#fff" stroke="#1d1d1d" stroke-width="0.9"/>
<polygon points="630.6,486.5 633.8,517.6 667,517.6 670,486.5" fill="#fff" stroke="#1d1d1d" stroke-width="0.9"/>
<rect x="27.8" y="343" width="682.6" height="143.5" rx="0" fill="#fff" stroke="#1d1d1d" stroke-width="1.3"/>
<line x1="27.8" y1="467.25" x2="710.4" y2="467.25" stroke="#5a5a5a" stroke-width="2.4"/>
<line x1="27.8" y1="471.7" x2="710.4" y2="471.7" stroke="#555" stroke-width="2.8"/>
<line x1="27.8" y1="476.3" x2="710.4" y2="476.3" stroke="#4a4a4a" stroke-width="2.6"/>
<line x1="27.8" y1="481" x2="710.4" y2="481" stroke="#555" stroke-width="3"/>
<line x1="27.8" y1="485.3" x2="710.4" y2="485.3" stroke="#1c1c1c" stroke-width="2.4"/>
<line x1="27.8" y1="466.3" x2="710.4" y2="466.3" stroke="#222" stroke-width="0.8"/>
<circle cx="29.7" cy="467.5" r="0.8" fill="#ddd" stroke="none" stroke-width="0"/>
<circle cx="708.6" cy="467.5" r="0.8" fill="#ddd" stroke="none" stroke-width="0"/>
<circle cx="29.7" cy="472.2" r="0.8" fill="#ddd" stroke="none" stroke-width="0"/>
<circle cx="708.6" cy="472.2" r="0.8" fill="#ddd" stroke="none" stroke-width="0"/>
<circle cx="29.7" cy="476.7" r="0.8" fill="#ddd" stroke="none" stroke-width="0"/>
<circle cx="708.6" cy="476.7" r="0.8" fill="#ddd" stroke="none" stroke-width="0"/>
<circle cx="29.7" cy="481.4" r="0.8" fill="#ddd" stroke="none" stroke-width="0"/>
<circle cx="708.6" cy="481.4" r="0.8" fill="#ddd" stroke="none" stroke-width="0"/>
<line x1="27.8" y1="343" x2="27.8" y2="486.5" stroke="#1d1d1d" stroke-width="1.3"/>
<line x1="710.4" y1="343" x2="710.4" y2="486.5" stroke="#1d1d1d" stroke-width="1.3"/>
<circle cx="81.4" cy="379.4" r="16.1" fill="#fff" stroke="#1d1d1d" stroke-width="1.05"/>
<circle cx="81.4" cy="379.4" r="12.5" fill="none" stroke="#1d1d1d" stroke-width="2.3"/>
<line x1="72.6" y1="394.64" x2="70.5" y2="398.28" stroke="#1d1d1d" stroke-width="1.8"/>
<line x1="66.16" y1="388.2" x2="62.52" y2="390.3" stroke="#1d1d1d" stroke-width="1.8"/>
<line x1="63.8" y1="379.4" x2="59.6" y2="379.4" stroke="#1d1d1d" stroke-width="1.8"/>
<line x1="66.16" y1="370.6" x2="62.52" y2="368.5" stroke="#1d1d1d" stroke-width="1.8"/>
<line x1="72.6" y1="364.16" x2="70.5" y2="360.52" stroke="#1d1d1d" stroke-width="1.8"/>
<line x1="81.4" y1="361.8" x2="81.4" y2="357.6" stroke="#1d1d1d" stroke-width="1.8"/>
<line x1="90.2" y1="364.16" x2="92.3" y2="360.52" stroke="#1d1d1d" stroke-width="1.8"/>
<line x1="96.64" y1="370.6" x2="100.28" y2="368.5" stroke="#1d1d1d" stroke-width="1.8"/>
<line x1="99" y1="379.4" x2="103.2" y2="379.4" stroke="#1d1d1d" stroke-width="1.8"/>
<line x1="96.64" y1="388.2" x2="100.28" y2="390.3" stroke="#1d1d1d" stroke-width="1.8"/>
<line x1="90.2" y1="394.64" x2="92.3" y2="398.28" stroke="#1d1d1d" stroke-width="1.8"/>
<line x1="79.65" y1="382.55" x2="75.49" y2="390.07" stroke="#2a2a2a" stroke-width="2.3"/>
<line x1="79.36" y1="383.07" x2="76.16" y2="388.85" stroke="#8a8a8a" stroke-width="1"/>
<text x="68.1" y="400.6" font-size="4" text-anchor="middle" fill="#4a4a4a">0</text>
<text x="96.3" y="400.6" font-size="4" text-anchor="middle" fill="#4a4a4a" textLength="3.6" lengthAdjust="spacingAndGlyphs">10</text>
<circle cx="143" cy="379.4" r="16.1" fill="#fff" stroke="#1d1d1d" stroke-width="1.05"/>
<circle cx="143" cy="379.4" r="12.5" fill="none" stroke="#1d1d1d" stroke-width="2.3"/>
<line x1="134.2" y1="394.64" x2="132.1" y2="398.28" stroke="#1d1d1d" stroke-width="1.8"/>
<line x1="127.76" y1="388.2" x2="124.12" y2="390.3" stroke="#1d1d1d" stroke-width="1.8"/>
<line x1="125.4" y1="379.4" x2="121.2" y2="379.4" stroke="#1d1d1d" stroke-width="1.8"/>
<line x1="127.76" y1="370.6" x2="124.12" y2="368.5" stroke="#1d1d1d" stroke-width="1.8"/>
<line x1="134.2" y1="364.16" x2="132.1" y2="360.52" stroke="#1d1d1d" stroke-width="1.8"/>
<line x1="143" y1="361.8" x2="143" y2="357.6" stroke="#1d1d1d" stroke-width="1.8"/>
<line x1="151.8" y1="364.16" x2="153.9" y2="360.52" stroke="#1d1d1d" stroke-width="1.8"/>
<line x1="158.24" y1="370.6" x2="161.88" y2="368.5" stroke="#1d1d1d" stroke-width="1.8"/>
<line x1="160.6" y1="379.4" x2="164.8" y2="379.4" stroke="#1d1d1d" stroke-width="1.8"/>
<line x1="158.24" y1="388.2" x2="161.88" y2="390.3" stroke="#1d1d1d" stroke-width="1.8"/>
<line x1="151.8" y1="394.64" x2="153.9" y2="398.28" stroke="#1d1d1d" stroke-width="1.8"/>
<line x1="141.25" y1="382.55" x2="137.09" y2="390.07" stroke="#2a2a2a" stroke-width="2.3"/>
<line x1="140.96" y1="383.07" x2="137.76" y2="388.85" stroke="#8a8a8a" stroke-width="1"/>
<text x="129.7" y="400.6" font-size="4" text-anchor="middle" fill="#4a4a4a">0</text>
<text x="157.9" y="400.6" font-size="4" text-anchor="middle" fill="#4a4a4a" textLength="3.6" lengthAdjust="spacingAndGlyphs">10</text>
<circle cx="204.4" cy="379.4" r="16.1" fill="#fff" stroke="#1d1d1d" stroke-width="1.05"/>
<circle cx="204.4" cy="379.4" r="12.5" fill="none" stroke="#1d1d1d" stroke-width="2.3"/>
<line x1="195.6" y1="394.64" x2="193.5" y2="398.28" stroke="#1d1d1d" stroke-width="1.8"/>
<line x1="189.16" y1="388.2" x2="185.52" y2="390.3" stroke="#1d1d1d" stroke-width="1.8"/>
<line x1="186.8" y1="379.4" x2="182.6" y2="379.4" stroke="#1d1d1d" stroke-width="1.8"/>
<line x1="189.16" y1="370.6" x2="185.52" y2="368.5" stroke="#1d1d1d" stroke-width="1.8"/>
<line x1="195.6" y1="364.16" x2="193.5" y2="360.52" stroke="#1d1d1d" stroke-width="1.8"/>
<line x1="204.4" y1="361.8" x2="204.4" y2="357.6" stroke="#1d1d1d" stroke-width="1.8"/>
<line x1="213.2" y1="364.16" x2="215.3" y2="360.52" stroke="#1d1d1d" stroke-width="1.8"/>
<line x1="219.64" y1="370.6" x2="223.28" y2="368.5" stroke="#1d1d1d" stroke-width="1.8"/>
<line x1="222" y1="379.4" x2="226.2" y2="379.4" stroke="#1d1d1d" stroke-width="1.8"/>
<line x1="219.64" y1="388.2" x2="223.28" y2="390.3" stroke="#1d1d1d" stroke-width="1.8"/>
<line x1="213.2" y1="394.64" x2="215.3" y2="398.28" stroke="#1d1d1d" stroke-width="1.8"/>
<line x1="202.65" y1="382.55" x2="198.49" y2="390.07" stroke="#2a2a2a" stroke-width="2.3"/>
<line x1="202.36" y1="383.07" x2="199.16" y2="388.85" stroke="#8a8a8a" stroke-width="1"/>
<text x="191.1" y="400.6" font-size="4" text-anchor="middle" fill="#4a4a4a">0</text>
<text x="219.3" y="400.6" font-size="4" text-anchor="middle" fill="#4a4a4a" textLength="3.6" lengthAdjust="spacingAndGlyphs">10</text>
<circle cx="266" cy="379.4" r="16.1" fill="#fff" stroke="#1d1d1d" stroke-width="1.05"/>
<circle cx="266" cy="379.4" r="12.5" fill="none" stroke="#1d1d1d" stroke-width="2.3"/>
<line x1="257.2" y1="394.64" x2="255.1" y2="398.28" stroke="#1d1d1d" stroke-width="1.8"/>
<line x1="250.76" y1="388.2" x2="247.12" y2="390.3" stroke="#1d1d1d" stroke-width="1.8"/>
<line x1="248.4" y1="379.4" x2="244.2" y2="379.4" stroke="#1d1d1d" stroke-width="1.8"/>
<line x1="250.76" y1="370.6" x2="247.12" y2="368.5" stroke="#1d1d1d" stroke-width="1.8"/>
<line x1="257.2" y1="364.16" x2="255.1" y2="360.52" stroke="#1d1d1d" stroke-width="1.8"/>
<line x1="266" y1="361.8" x2="266" y2="357.6" stroke="#1d1d1d" stroke-width="1.8"/>
<line x1="274.8" y1="364.16" x2="276.9" y2="360.52" stroke="#1d1d1d" stroke-width="1.8"/>
<line x1="281.24" y1="370.6" x2="284.88" y2="368.5" stroke="#1d1d1d" stroke-width="1.8"/>
<line x1="283.6" y1="379.4" x2="287.8" y2="379.4" stroke="#1d1d1d" stroke-width="1.8"/>
<line x1="281.24" y1="388.2" x2="284.88" y2="390.3" stroke="#1d1d1d" stroke-width="1.8"/>
<line x1="274.8" y1="394.64" x2="276.9" y2="398.28" stroke="#1d1d1d" stroke-width="1.8"/>
<line x1="264.25" y1="382.55" x2="260.09" y2="390.07" stroke="#2a2a2a" stroke-width="2.3"/>
<line x1="263.96" y1="383.07" x2="260.76" y2="388.85" stroke="#8a8a8a" stroke-width="1"/>
<text x="252.7" y="400.6" font-size="4" text-anchor="middle" fill="#4a4a4a">0</text>
<text x="280.9" y="400.6" font-size="4" text-anchor="middle" fill="#4a4a4a" textLength="3.6" lengthAdjust="spacingAndGlyphs">10</text>
<circle cx="327.8" cy="379.4" r="16.1" fill="#fff" stroke="#1d1d1d" stroke-width="1.05"/>
<circle cx="327.8" cy="379.4" r="12.5" fill="none" stroke="#1d1d1d" stroke-width="2.3"/>
<line x1="319" y1="394.64" x2="316.9" y2="398.28" stroke="#1d1d1d" stroke-width="1.8"/>
<line x1="312.56" y1="388.2" x2="308.92" y2="390.3" stroke="#1d1d1d" stroke-width="1.8"/>
<line x1="310.2" y1="379.4" x2="306" y2="379.4" stroke="#1d1d1d" stroke-width="1.8"/>
<line x1="312.56" y1="370.6" x2="308.92" y2="368.5" stroke="#1d1d1d" stroke-width="1.8"/>
<line x1="319" y1="364.16" x2="316.9" y2="360.52" stroke="#1d1d1d" stroke-width="1.8"/>
<line x1="327.8" y1="361.8" x2="327.8" y2="357.6" stroke="#1d1d1d" stroke-width="1.8"/>
<line x1="336.6" y1="364.16" x2="338.7" y2="360.52" stroke="#1d1d1d" stroke-width="1.8"/>
<line x1="343.04" y1="370.6" x2="346.68" y2="368.5" stroke="#1d1d1d" stroke-width="1.8"/>
<line x1="345.4" y1="379.4" x2="349.6" y2="379.4" stroke="#1d1d1d" stroke-width="1.8"/>
<line x1="343.04" y1="388.2" x2="346.68" y2="390.3" stroke="#1d1d1d" stroke-width="1.8"/>
<line x1="336.6" y1="394.64" x2="338.7" y2="398.28" stroke="#1d1d1d" stroke-width="1.8"/>
<line x1="326.05" y1="382.55" x2="321.89" y2="390.07" stroke="#2a2a2a" stroke-width="2.3"/>
<line x1="325.76" y1="383.07" x2="322.56" y2="388.85" stroke="#8a8a8a" stroke-width="1"/>
<text x="314.5" y="400.6" font-size="4" text-anchor="middle" fill="#4a4a4a">0</text>
<text x="342.7" y="400.6" font-size="4" text-anchor="middle" fill="#4a4a4a" textLength="3.6" lengthAdjust="spacingAndGlyphs">10</text>
<circle cx="389.6" cy="379.4" r="16.1" fill="#fff" stroke="#1d1d1d" stroke-width="1.05"/>
<circle cx="389.6" cy="379.4" r="12.5" fill="none" stroke="#1d1d1d" stroke-width="2.3"/>
<line x1="380.8" y1="394.64" x2="378.7" y2="398.28" stroke="#1d1d1d" stroke-width="1.8"/>
<line x1="374.36" y1="388.2" x2="370.72" y2="390.3" stroke="#1d1d1d" stroke-width="1.8"/>
<line x1="372" y1="379.4" x2="367.8" y2="379.4" stroke="#1d1d1d" stroke-width="1.8"/>
<line x1="374.36" y1="370.6" x2="370.72" y2="368.5" stroke="#1d1d1d" stroke-width="1.8"/>
<line x1="380.8" y1="364.16" x2="378.7" y2="360.52" stroke="#1d1d1d" stroke-width="1.8"/>
<line x1="389.6" y1="361.8" x2="389.6" y2="357.6" stroke="#1d1d1d" stroke-width="1.8"/>
<line x1="398.4" y1="364.16" x2="400.5" y2="360.52" stroke="#1d1d1d" stroke-width="1.8"/>
<line x1="404.84" y1="370.6" x2="408.48" y2="368.5" stroke="#1d1d1d" stroke-width="1.8"/>
<line x1="407.2" y1="379.4" x2="411.4" y2="379.4" stroke="#1d1d1d" stroke-width="1.8"/>
<line x1="404.84" y1="388.2" x2="408.48" y2="390.3" stroke="#1d1d1d" stroke-width="1.8"/>
<line x1="398.4" y1="394.64" x2="400.5" y2="398.28" stroke="#1d1d1d" stroke-width="1.8"/>
<line x1="387.85" y1="382.55" x2="383.69" y2="390.07" stroke="#2a2a2a" stroke-width="2.3"/>
<line x1="387.56" y1="383.07" x2="384.36" y2="388.85" stroke="#8a8a8a" stroke-width="1"/>
<text x="376.3" y="400.6" font-size="4" text-anchor="middle" fill="#4a4a4a">0</text>
<text x="404.5" y="400.6" font-size="4" text-anchor="middle" fill="#4a4a4a" textLength="3.6" lengthAdjust="spacingAndGlyphs">10</text>
<circle cx="266" cy="434.6" r="16.1" fill="#fff" stroke="#1d1d1d" stroke-width="1.05"/>
<circle cx="266" cy="434.6" r="12.5" fill="none" stroke="#1d1d1d" stroke-width="2.3"/>
<line x1="257.2" y1="449.84" x2="255.1" y2="453.48" stroke="#1d1d1d" stroke-width="1.8"/>
<line x1="250.76" y1="443.4" x2="247.12" y2="445.5" stroke="#1d1d1d" stroke-width="1.8"/>
<line x1="248.4" y1="434.6" x2="244.2" y2="434.6" stroke="#1d1d1d" stroke-width="1.8"/>
<line x1="250.76" y1="425.8" x2="247.12" y2="423.7" stroke="#1d1d1d" stroke-width="1.8"/>
<line x1="257.2" y1="419.36" x2="255.1" y2="415.72" stroke="#1d1d1d" stroke-width="1.8"/>
<line x1="266" y1="417" x2="266" y2="412.8" stroke="#1d1d1d" stroke-width="1.8"/>
<line x1="274.8" y1="419.36" x2="276.9" y2="415.72" stroke="#1d1d1d" stroke-width="1.8"/>
<line x1="281.24" y1="425.8" x2="284.88" y2="423.7" stroke="#1d1d1d" stroke-width="1.8"/>
<line x1="283.6" y1="434.6" x2="287.8" y2="434.6" stroke="#1d1d1d" stroke-width="1.8"/>
<line x1="281.24" y1="443.4" x2="284.88" y2="445.5" stroke="#1d1d1d" stroke-width="1.8"/>
<line x1="274.8" y1="449.84" x2="276.9" y2="453.48" stroke="#1d1d1d" stroke-width="1.8"/>
<line x1="264.25" y1="437.75" x2="260.09" y2="445.27" stroke="#2a2a2a" stroke-width="2.3"/>
<line x1="263.96" y1="438.27" x2="260.76" y2="444.05" stroke="#8a8a8a" stroke-width="1"/>
<text x="252.7" y="455.8" font-size="4" text-anchor="middle" fill="#4a4a4a">0</text>
<text x="280.9" y="455.8" font-size="4" text-anchor="middle" fill="#4a4a4a" textLength="3.6" lengthAdjust="spacingAndGlyphs">10</text>
<circle cx="327.8" cy="434.6" r="16.1" fill="#fff" stroke="#1d1d1d" stroke-width="1.05"/>
<circle cx="327.8" cy="434.6" r="12.5" fill="none" stroke="#1d1d1d" stroke-width="2.3"/>
<line x1="319" y1="449.84" x2="316.9" y2="453.48" stroke="#1d1d1d" stroke-width="1.8"/>
<line x1="312.56" y1="443.4" x2="308.92" y2="445.5" stroke="#1d1d1d" stroke-width="1.8"/>
<line x1="310.2" y1="434.6" x2="306" y2="434.6" stroke="#1d1d1d" stroke-width="1.8"/>
<line x1="312.56" y1="425.8" x2="308.92" y2="423.7" stroke="#1d1d1d" stroke-width="1.8"/>
<line x1="319" y1="419.36" x2="316.9" y2="415.72" stroke="#1d1d1d" stroke-width="1.8"/>
<line x1="327.8" y1="417" x2="327.8" y2="412.8" stroke="#1d1d1d" stroke-width="1.8"/>
<line x1="336.6" y1="419.36" x2="338.7" y2="415.72" stroke="#1d1d1d" stroke-width="1.8"/>
<line x1="343.04" y1="425.8" x2="346.68" y2="423.7" stroke="#1d1d1d" stroke-width="1.8"/>
<line x1="345.4" y1="434.6" x2="349.6" y2="434.6" stroke="#1d1d1d" stroke-width="1.8"/>
<line x1="343.04" y1="443.4" x2="346.68" y2="445.5" stroke="#1d1d1d" stroke-width="1.8"/>
<line x1="336.6" y1="449.84" x2="338.7" y2="453.48" stroke="#1d1d1d" stroke-width="1.8"/>
<line x1="326.05" y1="437.75" x2="321.89" y2="445.27" stroke="#2a2a2a" stroke-width="2.3"/>
<line x1="325.76" y1="438.27" x2="322.56" y2="444.05" stroke="#8a8a8a" stroke-width="1"/>
<text x="314.5" y="455.8" font-size="4" text-anchor="middle" fill="#4a4a4a">0</text>
<text x="342.7" y="455.8" font-size="4" text-anchor="middle" fill="#4a4a4a" textLength="3.6" lengthAdjust="spacingAndGlyphs">10</text>
<circle cx="389.6" cy="434.6" r="16.1" fill="#fff" stroke="#1d1d1d" stroke-width="1.05"/>
<circle cx="389.6" cy="434.6" r="12.5" fill="none" stroke="#1d1d1d" stroke-width="2.3"/>
<line x1="380.8" y1="449.84" x2="378.7" y2="453.48" stroke="#1d1d1d" stroke-width="1.8"/>
<line x1="374.36" y1="443.4" x2="370.72" y2="445.5" stroke="#1d1d1d" stroke-width="1.8"/>
<line x1="372" y1="434.6" x2="367.8" y2="434.6" stroke="#1d1d1d" stroke-width="1.8"/>
<line x1="374.36" y1="425.8" x2="370.72" y2="423.7" stroke="#1d1d1d" stroke-width="1.8"/>
<line x1="380.8" y1="419.36" x2="378.7" y2="415.72" stroke="#1d1d1d" stroke-width="1.8"/>
<line x1="389.6" y1="417" x2="389.6" y2="412.8" stroke="#1d1d1d" stroke-width="1.8"/>
<line x1="398.4" y1="419.36" x2="400.5" y2="415.72" stroke="#1d1d1d" stroke-width="1.8"/>
<line x1="404.84" y1="425.8" x2="408.48" y2="423.7" stroke="#1d1d1d" stroke-width="1.8"/>
<line x1="407.2" y1="434.6" x2="411.4" y2="434.6" stroke="#1d1d1d" stroke-width="1.8"/>
<line x1="404.84" y1="443.4" x2="408.48" y2="445.5" stroke="#1d1d1d" stroke-width="1.8"/>
<line x1="398.4" y1="449.84" x2="400.5" y2="453.48" stroke="#1d1d1d" stroke-width="1.8"/>
<line x1="387.85" y1="437.75" x2="383.69" y2="445.27" stroke="#2a2a2a" stroke-width="2.3"/>
<line x1="387.56" y1="438.27" x2="384.36" y2="444.05" stroke="#8a8a8a" stroke-width="1"/>
<text x="376.3" y="455.8" font-size="4" text-anchor="middle" fill="#4a4a4a">0</text>
<text x="404.5" y="455.8" font-size="4" text-anchor="middle" fill="#4a4a4a" textLength="3.6" lengthAdjust="spacingAndGlyphs">10</text>
<circle cx="81.4" cy="435" r="16.1" fill="#fff" stroke="#1d1d1d" stroke-width="1.05"/>
<circle cx="81.4" cy="435" r="12.5" fill="none" stroke="#1d1d1d" stroke-width="2.3"/>
<line x1="72.6" y1="450.24" x2="70.5" y2="453.88" stroke="#1d1d1d" stroke-width="1.8"/>
<line x1="66.16" y1="443.8" x2="62.52" y2="445.9" stroke="#1d1d1d" stroke-width="1.8"/>
<line x1="63.8" y1="435" x2="59.6" y2="435" stroke="#1d1d1d" stroke-width="1.8"/>
<line x1="66.16" y1="426.2" x2="62.52" y2="424.1" stroke="#1d1d1d" stroke-width="1.8"/>
<line x1="72.6" y1="419.76" x2="70.5" y2="416.12" stroke="#1d1d1d" stroke-width="1.8"/>
<line x1="81.4" y1="417.4" x2="81.4" y2="413.8" stroke="#1d1d1d" stroke-width="3"/>
<line x1="90.2" y1="419.76" x2="92.3" y2="416.12" stroke="#1d1d1d" stroke-width="1.8"/>
<line x1="96.64" y1="426.2" x2="100.28" y2="424.1" stroke="#1d1d1d" stroke-width="1.8"/>
<line x1="99" y1="435" x2="103.2" y2="435" stroke="#1d1d1d" stroke-width="1.8"/>
<line x1="96.64" y1="443.8" x2="100.28" y2="445.9" stroke="#1d1d1d" stroke-width="1.8"/>
<line x1="90.2" y1="450.24" x2="92.3" y2="453.88" stroke="#1d1d1d" stroke-width="1.8"/>
<line x1="81.4" y1="431.4" x2="81.4" y2="422.8" stroke="#2a2a2a" stroke-width="2.3"/>
<line x1="81.4" y1="430.8" x2="81.4" y2="424.2" stroke="#8a8a8a" stroke-width="1"/>
<text x="68.1" y="455.6" font-size="3.6" text-anchor="middle" fill="#555">-</text>
<text x="96" y="456.2" font-size="3.6" text-anchor="middle" fill="#555">+</text>
<circle cx="143" cy="435" r="16.1" fill="#fff" stroke="#1d1d1d" stroke-width="1.05"/>
<circle cx="143" cy="435" r="12.5" fill="none" stroke="#1d1d1d" stroke-width="2.3"/>
<line x1="134.2" y1="450.24" x2="132.1" y2="453.88" stroke="#1d1d1d" stroke-width="1.8"/>
<line x1="127.76" y1="443.8" x2="124.12" y2="445.9" stroke="#1d1d1d" stroke-width="1.8"/>
<line x1="125.4" y1="435" x2="121.2" y2="435" stroke="#1d1d1d" stroke-width="1.8"/>
<line x1="127.76" y1="426.2" x2="124.12" y2="424.1" stroke="#1d1d1d" stroke-width="1.8"/>
<line x1="134.2" y1="419.76" x2="132.1" y2="416.12" stroke="#1d1d1d" stroke-width="1.8"/>
<line x1="143" y1="417.4" x2="143" y2="413.8" stroke="#1d1d1d" stroke-width="3"/>
<line x1="151.8" y1="419.76" x2="153.9" y2="416.12" stroke="#1d1d1d" stroke-width="1.8"/>
<line x1="158.24" y1="426.2" x2="161.88" y2="424.1" stroke="#1d1d1d" stroke-width="1.8"/>
<line x1="160.6" y1="435" x2="164.8" y2="435" stroke="#1d1d1d" stroke-width="1.8"/>
<line x1="158.24" y1="443.8" x2="161.88" y2="445.9" stroke="#1d1d1d" stroke-width="1.8"/>
<line x1="151.8" y1="450.24" x2="153.9" y2="453.88" stroke="#1d1d1d" stroke-width="1.8"/>
<line x1="143" y1="431.4" x2="143" y2="422.8" stroke="#2a2a2a" stroke-width="2.3"/>
<line x1="143" y1="430.8" x2="143" y2="424.2" stroke="#8a8a8a" stroke-width="1"/>
<text x="129.7" y="455.6" font-size="3.6" text-anchor="middle" fill="#555">-</text>
<text x="157.6" y="456.2" font-size="3.6" text-anchor="middle" fill="#555">+</text>
<text x="80" y="355.8" font-size="6.7" text-anchor="middle" fill="#2a2a2a" textLength="14" lengthAdjust="spacingAndGlyphs" stroke="#2a2a2a" stroke-width="0.18">MIC 1</text>
<text x="141.8" y="355.8" font-size="6.7" text-anchor="middle" fill="#2a2a2a" textLength="14" lengthAdjust="spacingAndGlyphs" stroke="#2a2a2a" stroke-width="0.18">MIC 2</text>
<text x="203.6" y="355.8" font-size="6.7" text-anchor="middle" fill="#2a2a2a" textLength="14" lengthAdjust="spacingAndGlyphs" stroke="#2a2a2a" stroke-width="0.18">MIC 3</text>
<text x="264.6" y="355.8" font-size="6.7" text-anchor="middle" fill="#2a2a2a" textLength="14" lengthAdjust="spacingAndGlyphs" stroke="#2a2a2a" stroke-width="0.18">MIC 4</text>
<text x="322.8" y="355.8" font-size="6.7" text-anchor="middle" fill="#2a2a2a" textLength="32.5" lengthAdjust="spacingAndGlyphs" stroke="#2a2a2a" stroke-width="0.18">MIC 5/AUX 1</text>
<text x="384.6" y="355.8" font-size="6.7" text-anchor="middle" fill="#2a2a2a" textLength="32.5" lengthAdjust="spacingAndGlyphs" stroke="#2a2a2a" stroke-width="0.18">MIC 6/AUX 2</text>
<text x="79.8" y="411" font-size="6.7" text-anchor="middle" fill="#2a2a2a" textLength="13" lengthAdjust="spacingAndGlyphs" stroke="#2a2a2a" stroke-width="0.18">BASS</text>
<text x="140.8" y="411" font-size="6.7" text-anchor="middle" fill="#2a2a2a" textLength="18.2" lengthAdjust="spacingAndGlyphs" stroke="#2a2a2a" stroke-width="0.18">TREBLE</text>
<text x="264.6" y="411" font-size="6.7" text-anchor="middle" fill="#2a2a2a" textLength="14.2" lengthAdjust="spacingAndGlyphs" stroke="#2a2a2a" stroke-width="0.18">AUX 3</text>
<text x="325.6" y="411" font-size="6.7" text-anchor="middle" fill="#2a2a2a" textLength="14.2" lengthAdjust="spacingAndGlyphs" stroke="#2a2a2a" stroke-width="0.18">AUX 4</text>
<text x="387.4" y="411" font-size="6.7" text-anchor="middle" fill="#2a2a2a" textLength="14.2" lengthAdjust="spacingAndGlyphs" stroke="#2a2a2a" stroke-width="0.18">AUX 5</text>
<rect x="441.8" y="378.05" width="6.4" height="3.1" rx="0.2" fill="#fff" stroke="#2a2a2a" stroke-width="1.2"/>
<rect x="441.8" y="433.65" width="6.4" height="3.1" rx="0.2" fill="#fff" stroke="#2a2a2a" stroke-width="1.2"/>
<rect x="463.5" y="372.6" width="35.2" height="13.8" rx="0.8" fill="#fff" stroke="#1d1d1d" stroke-width="1.9"/>
<rect x="476" y="375.3" width="2.1" height="1.5" rx="0" fill="#1d1d1d" stroke="none" stroke-width="0"/>
<rect x="476" y="377.55" width="2.1" height="1.5" rx="0" fill="#1d1d1d" stroke="none" stroke-width="0"/>
<rect x="476" y="379.8" width="2.1" height="1.5" rx="0" fill="#1d1d1d" stroke="none" stroke-width="0"/>
<rect x="476" y="382.05" width="2.1" height="1.5" rx="0" fill="#1d1d1d" stroke="none" stroke-width="0"/>
<rect x="478.9" y="375.3" width="2.1" height="1.5" rx="0" fill="#1d1d1d" stroke="none" stroke-width="0"/>
<rect x="478.9" y="377.55" width="2.1" height="1.5" rx="0" fill="#1d1d1d" stroke="none" stroke-width="0"/>
<rect x="478.9" y="379.8" width="2.1" height="1.5" rx="0" fill="#1d1d1d" stroke="none" stroke-width="0"/>
<rect x="478.9" y="382.05" width="2.1" height="1.5" rx="0" fill="#1d1d1d" stroke="none" stroke-width="0"/>
<rect x="481.8" y="375.3" width="2.1" height="1.5" rx="0" fill="#1d1d1d" stroke="none" stroke-width="0"/>
<rect x="481.8" y="377.55" width="2.1" height="1.5" rx="0" fill="#1d1d1d" stroke="none" stroke-width="0"/>
<rect x="481.8" y="379.8" width="2.1" height="1.5" rx="0" fill="#1d1d1d" stroke="none" stroke-width="0"/>
<rect x="481.8" y="382.05" width="2.1" height="1.5" rx="0" fill="#1d1d1d" stroke="none" stroke-width="0"/>
<rect x="484.7" y="375.3" width="2.1" height="1.5" rx="0" fill="#1d1d1d" stroke="none" stroke-width="0"/>
<rect x="484.7" y="377.55" width="2.1" height="1.5" rx="0" fill="#1d1d1d" stroke="none" stroke-width="0"/>
<rect x="484.7" y="379.8" width="2.1" height="1.5" rx="0" fill="#1d1d1d" stroke="none" stroke-width="0"/>
<rect x="484.7" y="382.05" width="2.1" height="1.5" rx="0" fill="#1d1d1d" stroke="none" stroke-width="0"/>
<text x="479.2" y="369.6" font-size="6.3" text-anchor="middle" fill="#2a2a2a" textLength="18.2" lengthAdjust="spacingAndGlyphs" stroke="#2a2a2a" stroke-width="0.18">ZONE 1</text>
<rect x="463.5" y="428.2" width="35.2" height="13.8" rx="0.8" fill="#fff" stroke="#1d1d1d" stroke-width="1.9"/>
<rect x="476" y="430.9" width="2.1" height="1.5" rx="0" fill="#1d1d1d" stroke="none" stroke-width="0"/>
<rect x="476" y="433.15" width="2.1" height="1.5" rx="0" fill="#1d1d1d" stroke="none" stroke-width="0"/>
<rect x="476" y="435.4" width="2.1" height="1.5" rx="0" fill="#1d1d1d" stroke="none" stroke-width="0"/>
<rect x="476" y="437.65" width="2.1" height="1.5" rx="0" fill="#1d1d1d" stroke="none" stroke-width="0"/>
<rect x="478.9" y="430.9" width="2.1" height="1.5" rx="0" fill="#1d1d1d" stroke="none" stroke-width="0"/>
<rect x="478.9" y="433.15" width="2.1" height="1.5" rx="0" fill="#1d1d1d" stroke="none" stroke-width="0"/>
<rect x="478.9" y="435.4" width="2.1" height="1.5" rx="0" fill="#1d1d1d" stroke="none" stroke-width="0"/>
<rect x="478.9" y="437.65" width="2.1" height="1.5" rx="0" fill="#1d1d1d" stroke="none" stroke-width="0"/>
<rect x="481.8" y="430.9" width="2.1" height="1.5" rx="0" fill="#1d1d1d" stroke="none" stroke-width="0"/>
<rect x="481.8" y="433.15" width="2.1" height="1.5" rx="0" fill="#1d1d1d" stroke="none" stroke-width="0"/>
<rect x="481.8" y="435.4" width="2.1" height="1.5" rx="0" fill="#1d1d1d" stroke="none" stroke-width="0"/>
<rect x="481.8" y="437.65" width="2.1" height="1.5" rx="0" fill="#1d1d1d" stroke="none" stroke-width="0"/>
<rect x="484.7" y="430.9" width="2.1" height="1.5" rx="0" fill="#1d1d1d" stroke="none" stroke-width="0"/>
<rect x="484.7" y="433.15" width="2.1" height="1.5" rx="0" fill="#1d1d1d" stroke="none" stroke-width="0"/>
<rect x="484.7" y="435.4" width="2.1" height="1.5" rx="0" fill="#1d1d1d" stroke="none" stroke-width="0"/>
<rect x="484.7" y="437.65" width="2.1" height="1.5" rx="0" fill="#1d1d1d" stroke="none" stroke-width="0"/>
<text x="479.2" y="425.2" font-size="6.3" text-anchor="middle" fill="#2a2a2a" textLength="18.2" lengthAdjust="spacingAndGlyphs" stroke="#2a2a2a" stroke-width="0.18">ZONE 2</text>
<circle cx="546.1" cy="407.2" r="27.4" fill="#fff" stroke="#1d1d1d" stroke-width="1.15"/>
<circle cx="546.1" cy="407.2" r="23.7" fill="none" stroke="#1d1d1d" stroke-width="1.8"/>
<line x1="531.65" y1="432.23" x2="529.75" y2="435.52" stroke="#1d1d1d" stroke-width="1.7"/>
<line x1="525.66" y1="427.64" x2="522.98" y2="430.32" stroke="#1d1d1d" stroke-width="1.7"/>
<line x1="521.07" y1="421.65" x2="517.78" y2="423.55" stroke="#1d1d1d" stroke-width="1.7"/>
<line x1="518.18" y1="414.68" x2="514.51" y2="415.66" stroke="#1d1d1d" stroke-width="1.7"/>
<line x1="517.2" y1="407.2" x2="513.4" y2="407.2" stroke="#1d1d1d" stroke-width="1.7"/>
<line x1="518.18" y1="399.72" x2="514.51" y2="398.74" stroke="#1d1d1d" stroke-width="1.7"/>
<line x1="521.07" y1="392.75" x2="517.78" y2="390.85" stroke="#1d1d1d" stroke-width="1.7"/>
<line x1="525.66" y1="386.76" x2="522.98" y2="384.08" stroke="#1d1d1d" stroke-width="1.7"/>
<line x1="531.65" y1="382.17" x2="529.75" y2="378.88" stroke="#1d1d1d" stroke-width="1.7"/>
<line x1="538.62" y1="379.28" x2="537.64" y2="375.61" stroke="#1d1d1d" stroke-width="1.7"/>
<line x1="546.1" y1="378.3" x2="546.1" y2="374.5" stroke="#1d1d1d" stroke-width="1.7"/>
<line x1="553.58" y1="379.28" x2="554.56" y2="375.61" stroke="#1d1d1d" stroke-width="1.7"/>
<line x1="560.55" y1="382.17" x2="562.45" y2="378.88" stroke="#1d1d1d" stroke-width="1.7"/>
<line x1="566.54" y1="386.76" x2="569.22" y2="384.08" stroke="#1d1d1d" stroke-width="1.7"/>
<line x1="571.13" y1="392.75" x2="574.42" y2="390.85" stroke="#1d1d1d" stroke-width="1.7"/>
<line x1="574.02" y1="399.72" x2="577.69" y2="398.74" stroke="#1d1d1d" stroke-width="1.7"/>
<line x1="575" y1="407.2" x2="578.8" y2="407.2" stroke="#1d1d1d" stroke-width="1.7"/>
<line x1="574.02" y1="414.68" x2="577.69" y2="415.66" stroke="#1d1d1d" stroke-width="1.7"/>
<line x1="571.13" y1="421.65" x2="574.42" y2="423.55" stroke="#1d1d1d" stroke-width="1.7"/>
<line x1="566.54" y1="427.64" x2="569.22" y2="430.32" stroke="#1d1d1d" stroke-width="1.7"/>
<line x1="560.55" y1="432.23" x2="562.45" y2="435.52" stroke="#1d1d1d" stroke-width="1.7"/>
<line x1="539.8" y1="418.11" x2="534.3" y2="427.64" stroke="#2a2a2a" stroke-width="2.5"/>
<line x1="539.5" y1="418.63" x2="535" y2="426.43" stroke="#8a8a8a" stroke-width="1.1"/>
<text x="544.6" y="369.9" font-size="6.7" text-anchor="middle" fill="#2a2a2a" textLength="21" lengthAdjust="spacingAndGlyphs" stroke="#2a2a2a" stroke-width="0.18">MASTER</text>
<text x="526.6" y="438.2" font-size="3.6" text-anchor="middle" fill="#555">0</text>
<text x="565.8" y="438.2" font-size="3.6" text-anchor="middle" fill="#555">10</text>
<rect x="597.7" y="377.9" width="7.4" height="3.4" rx="0.2" fill="#fff" stroke="#2a2a2a" stroke-width="1.4"/>
<text x="608.5" y="381" font-size="3.9" text-anchor="start" fill="#666">0 dB</text>
<rect x="597.7" y="391.87" width="7.4" height="3.4" rx="0.2" fill="#fff" stroke="#2a2a2a" stroke-width="1.4"/>
<text x="608.5" y="394.97" font-size="3.9" text-anchor="start" fill="#666">-6</text>
<rect x="597.7" y="405.84" width="7.4" height="3.4" rx="0.2" fill="#fff" stroke="#2a2a2a" stroke-width="1.4"/>
<text x="608.5" y="408.94" font-size="3.9" text-anchor="start" fill="#666">-12</text>
<rect x="597.7" y="419.81" width="7.4" height="3.4" rx="0.2" fill="#fff" stroke="#2a2a2a" stroke-width="1.4"/>
<text x="608.5" y="422.91" font-size="3.9" text-anchor="start" fill="#666">-18</text>
<rect x="597.7" y="433.78" width="7.4" height="3.4" rx="0.2" fill="#fff" stroke="#2a2a2a" stroke-width="1.4"/>
<text x="608.5" y="436.88" font-size="3.9" text-anchor="start" fill="#666">-24</text>
<rect x="670" y="378.05" width="6.4" height="3.1" rx="0.2" fill="#fff" stroke="#2a2a2a" stroke-width="1.2"/>
<text x="671.8" y="409.9" font-size="6.7" text-anchor="middle" fill="#2a2a2a" textLength="19.5" lengthAdjust="spacingAndGlyphs" stroke="#2a2a2a" stroke-width="0.18">POWER</text>
<circle cx="672.4" cy="435.5" r="10.5" fill="#fff" stroke="#1d1d1d" stroke-width="0.8"/>
<circle cx="672.4" cy="435.5" r="9.1" fill="none" stroke="#1d1d1d" stroke-width="1.9"/>
<path d="M685,433.7 h7.5 v-0.9 h-1 q-0.4,-2.3 -2.75,-2.3 t-2.75,2.3 h-1 z" fill="#1d1d1d" stroke="#1d1d1d" stroke-width="0.2"/>
<path d="M685,440.6 h7.5 v-0.9 h-1.2 l-0.3,-3.2 h-2.5 l-0.3,3.2 h-1.2 z" fill="#1d1d1d" stroke="#1d1d1d" stroke-width="0.2"/>
<text x="694" y="433.6" font-size="3.8" text-anchor="start" fill="#444" textLength="5.2" lengthAdjust="spacingAndGlyphs">ON</text>
<text x="694" y="440.5" font-size="3.8" text-anchor="start" fill="#444" textLength="6.2" lengthAdjust="spacingAndGlyphs">OFF</text>
<rect x="569.1" y="453.7" width="10.7" height="10.2" rx="0" fill="#111" stroke="none" stroke-width="0"/>
<path d="M572.1,463.9 V457.6 H574.2 V463.9 M575.6,463.9 V456.6 H571.4" fill="none" stroke="#fff" stroke-width="0.7"/>
<text x="583" y="464.2" font-size="11.7" text-anchor="start" fill="#111" textLength="22" lengthAdjust="spacingAndGlyphs" font-weight="bold">TOA</text>
<text x="609.4" y="463.6" font-size="6.5" text-anchor="start" fill="#2a2a2a" textLength="4.6" lengthAdjust="spacingAndGlyphs">PA</text>
<text x="616" y="463.6" font-size="6.5" text-anchor="start" fill="#2a2a2a" textLength="25" lengthAdjust="spacingAndGlyphs">AMPLIFIER</text>
<text x="642.8" y="463.6" font-size="6.5" text-anchor="start" fill="#2a2a2a" textLength="12.4" lengthAdjust="spacingAndGlyphs">model</text>
<text x="657.6" y="463.6" font-size="6.5" text-anchor="start" fill="#2a2a2a" textLength="16.8" lengthAdjust="spacingAndGlyphs">A-1712</text>
<line x1="719.4" y1="343.1" x2="780" y2="343.1" stroke="#383838" stroke-width="1.15"/>
<line x1="719.4" y1="486" x2="753.6" y2="486" stroke="#383838" stroke-width="1.15"/>
<line x1="676.2" y1="517.6" x2="779.6" y2="517.6" stroke="#383838" stroke-width="1.15"/>
<line x1="746.1" y1="343.1" x2="746.1" y2="486" stroke="#383838" stroke-width="1.15"/>
<line x1="772" y1="343.1" x2="772" y2="517.6" stroke="#383838" stroke-width="1.15"/>
<polygon points="746.1,343.1 743.8,351.3 748.4,351.3" fill="#1d1d1d"/>
<polygon points="746.1,486 743.8,477.8 748.4,477.8" fill="#1d1d1d"/>
<polygon points="772,343.1 769.7,351.3 774.3,351.3" fill="#1d1d1d"/>
<polygon points="772,517.6 769.7,509.4 774.3,509.4" fill="#1d1d1d"/>
<text x="740.6" y="419.4" font-size="14.4" text-anchor="middle" fill="#2a2a2a" textLength="26.2" lengthAdjust="spacingAndGlyphs" transform="rotate(-90 740.6 419.4)">88.4</text>
<text x="767" y="436.2" font-size="14.4" text-anchor="middle" fill="#2a2a2a" textLength="31.2" lengthAdjust="spacingAndGlyphs" transform="rotate(-90 767 436.2)">107.7</text>
<text x="361" y="582" font-size="16" text-anchor="middle" fill="#2a2a2a" textLength="60" lengthAdjust="spacingAndGlyphs" stroke="#2a2a2a" stroke-width="0.2">Front View</text>
<line x1="329.6" y1="587.4" x2="408" y2="587.4" stroke="#1d1d1d" stroke-width="1.1"/>
</g>
<g id="side-view">
<line x1="82.5" y1="665.5" x2="82.5" y2="790" stroke="#383838" stroke-width="1.15"/>
<line x1="700.4" y1="664.8" x2="700.4" y2="821.3" stroke="#383838" stroke-width="1.15"/>
<line x1="82.5" y1="672.8" x2="700.4" y2="672.8" stroke="#383838" stroke-width="1.15"/>
<polygon points="82.5,672.8 90.7,670.5 90.7,675.1" fill="#1d1d1d"/>
<polygon points="700.4,672.8 692.2,670.5 692.2,675.1" fill="#1d1d1d"/>
<text x="387.8" y="667" font-size="13.9" text-anchor="middle" fill="#2a2a2a" textLength="22.4" lengthAdjust="spacingAndGlyphs" stroke="#2a2a2a" stroke-width="0.12">367</text>
<line x1="34.5" y1="700.3" x2="663.2" y2="700.3" stroke="#383838" stroke-width="1.15"/>
<line x1="113.8" y1="692.5" x2="113.8" y2="713.8" stroke="#383838" stroke-width="1.15"/>
<line x1="663.2" y1="692.6" x2="663.2" y2="714.8" stroke="#383838" stroke-width="1.15"/>
<polygon points="82.5,700.3 74.3,698 74.3,702.6" fill="#1d1d1d"/>
<polygon points="113.8,700.3 122,698 122,702.6" fill="#1d1d1d"/>
<polygon points="663.2,700.3 655,698 655,702.6" fill="#1d1d1d"/>
<text x="32.5" y="695" font-size="13.9" text-anchor="start" fill="#2a2a2a" textLength="26.2" lengthAdjust="spacingAndGlyphs" stroke="#2a2a2a" stroke-width="0.12">18.5</text>
<text x="382.7" y="694.4" font-size="13.9" text-anchor="middle" fill="#2a2a2a" textLength="33.4" lengthAdjust="spacingAndGlyphs" stroke="#2a2a2a" stroke-width="0.12">326.5</text>
<polygon points="155,871.2 158,904 191.4,904 194.4,871.2" fill="#fff" stroke="#1d1d1d" stroke-width="0.9"/>
<polygon points="577,871.2 580,904 612.8,904 615.6,871.2" fill="#fff" stroke="#1d1d1d" stroke-width="0.9"/>
<rect x="94" y="747.7" width="20" height="17" rx="0" fill="#fff" stroke="#1d1d1d" stroke-width="1.3"/>
<rect x="94" y="813.6" width="20" height="18.1" rx="0.8" fill="#fff" stroke="#1d1d1d" stroke-width="1.3"/>
<rect x="83.4" y="764.7" width="30.6" height="49" rx="0.8" fill="#fff" stroke="#1d1d1d" stroke-width="1.3"/>
<rect x="105.9" y="809.9" width="8.1" height="17.5" rx="0.6" fill="#fff" stroke="#1d1d1d" stroke-width="1.4"/>
<path d="M113.8,870.6 V723 H139.2 V871.2" fill="#fff" stroke="#1d1d1d" stroke-width="1.2"/>
<path d="M139.2,723.7 H662.4 L663.3,725 V867.5 H638.3 V871.2 H125" fill="#fff" stroke="#1d1d1d" stroke-width="1.2"/>
<line x1="139.2" y1="723.7" x2="139.2" y2="871.2" stroke="#1d1d1d" stroke-width="1.2"/>
<path d="M139.4,867.8 H142.6 V871.2" fill="none" stroke="#1d1d1d" stroke-width="0.8"/>
<line x1="125" y1="851.2" x2="125" y2="871.2" stroke="#1d1d1d" stroke-width="1.1"/>
<rect x="113.5" y="851.3" width="11.5" height="2.5" rx="1.2" fill="#fff" stroke="#1d1d1d" stroke-width="1.15"/>
<rect x="113.5" y="855.2" width="11.5" height="2.5" rx="1.2" fill="#fff" stroke="#1d1d1d" stroke-width="1.15"/>
<rect x="113.5" y="859.1" width="11.5" height="2.5" rx="1.2" fill="#fff" stroke="#1d1d1d" stroke-width="1.15"/>
<rect x="113.5" y="863" width="11.5" height="2.5" rx="1.2" fill="#fff" stroke="#1d1d1d" stroke-width="1.15"/>
<rect x="113.5" y="866.9" width="11.5" height="2.5" rx="1.2" fill="#fff" stroke="#1d1d1d" stroke-width="1.15"/>
<line x1="114.5" y1="870.9" x2="125" y2="870.9" stroke="#1d1d1d" stroke-width="1"/>
<circle cx="181.3" cy="748" r="13.5" fill="#fff" stroke="#1d1d1d" stroke-width="1.1"/>
<circle cx="181.3" cy="748" r="8.1" fill="none" stroke="#2a2a2a" stroke-width="2.3"/>
<line x1="177.7" y1="748" x2="184.9" y2="748" stroke="#1d1d1d" stroke-width="0.9"/>
<line x1="181.3" y1="744.4" x2="181.3" y2="751.6" stroke="#1d1d1d" stroke-width="0.9"/>
<circle cx="181.3" cy="846.3" r="13.5" fill="#fff" stroke="#1d1d1d" stroke-width="1.1"/>
<circle cx="181.3" cy="846.3" r="8.1" fill="none" stroke="#2a2a2a" stroke-width="2.3"/>
<line x1="177.7" y1="846.3" x2="184.9" y2="846.3" stroke="#1d1d1d" stroke-width="0.9"/>
<line x1="181.3" y1="842.7" x2="181.3" y2="849.9" stroke="#1d1d1d" stroke-width="0.9"/>
<circle cx="576.6" cy="836.6" r="13.5" fill="#fff" stroke="#1d1d1d" stroke-width="1.1"/>
<circle cx="576.6" cy="836.6" r="8.1" fill="none" stroke="#2a2a2a" stroke-width="2.3"/>
<line x1="573" y1="836.6" x2="580.2" y2="836.6" stroke="#1d1d1d" stroke-width="0.9"/>
<line x1="576.6" y1="833" x2="576.6" y2="840.2" stroke="#1d1d1d" stroke-width="0.9"/>
<rect x="212.7" y="745.8" width="3.8" height="29.2" rx="1.9" fill="#fff" stroke="#2c2c2c" stroke-width="1.2"/>
<rect x="221.3" y="745.8" width="3.8" height="29.2" rx="1.9" fill="#fff" stroke="#2c2c2c" stroke-width="1.2"/>
<rect x="322.5" y="745.8" width="3.8" height="29.2" rx="1.9" fill="#fff" stroke="#2c2c2c" stroke-width="1.2"/>
<line x1="231.4" y1="745.7" x2="316" y2="745.7" stroke="#2c2c2c" stroke-width="1.2"/>
<line x1="231.4" y1="774.7" x2="316" y2="774.7" stroke="#2c2c2c" stroke-width="1.2"/>
<rect x="339.1" y="745.8" width="3.8" height="29.2" rx="1.9" fill="#fff" stroke="#2c2c2c" stroke-width="1.2"/>
<rect x="347.7" y="745.8" width="3.8" height="29.2" rx="1.9" fill="#fff" stroke="#2c2c2c" stroke-width="1.2"/>
<rect x="448.9" y="745.8" width="3.8" height="29.2" rx="1.9" fill="#fff" stroke="#2c2c2c" stroke-width="1.2"/>
<line x1="357.8" y1="745.7" x2="442.4" y2="745.7" stroke="#2c2c2c" stroke-width="1.2"/>
<line x1="357.8" y1="774.7" x2="442.4" y2="774.7" stroke="#2c2c2c" stroke-width="1.2"/>
<rect x="212.7" y="788" width="3.8" height="29.2" rx="1.9" fill="#fff" stroke="#2c2c2c" stroke-width="1.2"/>
<rect x="221.3" y="788" width="3.8" height="29.2" rx="1.9" fill="#fff" stroke="#2c2c2c" stroke-width="1.2"/>
<rect x="322.5" y="788" width="3.8" height="29.2" rx="1.9" fill="#fff" stroke="#2c2c2c" stroke-width="1.2"/>
<line x1="231.4" y1="787.9" x2="316" y2="787.9" stroke="#2c2c2c" stroke-width="1.2"/>
<line x1="231.4" y1="816.9" x2="316" y2="816.9" stroke="#2c2c2c" stroke-width="1.2"/>
<rect x="339.1" y="788" width="3.8" height="29.2" rx="1.9" fill="#fff" stroke="#2c2c2c" stroke-width="1.2"/>
<rect x="347.7" y="788" width="3.8" height="29.2" rx="1.9" fill="#fff" stroke="#2c2c2c" stroke-width="1.2"/>
<rect x="448.9" y="788" width="3.8" height="29.2" rx="1.9" fill="#fff" stroke="#2c2c2c" stroke-width="1.2"/>
<line x1="357.8" y1="787.9" x2="442.4" y2="787.9" stroke="#2c2c2c" stroke-width="1.2"/>
<line x1="357.8" y1="816.9" x2="442.4" y2="816.9" stroke="#2c2c2c" stroke-width="1.2"/>
<rect x="663.3" y="755.1" width="20.8" height="23" rx="0" fill="#fff" stroke="#1d1d1d" stroke-width="1.2"/>
<line x1="673.6" y1="755.1" x2="673.6" y2="778.1" stroke="#1d1d1d" stroke-width="1"/>
<path d="M677.1,792.4 V802 H672.4" fill="none" stroke="#1d1d1d" stroke-width="1.6"/>
<path d="M663.3,801 H670.2 V816.4" fill="none" stroke="#1d1d1d" stroke-width="0.9"/>
<path d="M663.3,817 H690.2 V844.4 H663.3" fill="none" stroke="#1d1d1d" stroke-width="1"/>
<line x1="663.3" y1="816.4" x2="690.2" y2="816.4" stroke="#1d1d1d" stroke-width="1.4"/>
<line x1="676.4" y1="818" x2="676.4" y2="844.4" stroke="#1d1d1d" stroke-width="1"/>
<line x1="676.4" y1="827.6" x2="693.2" y2="827.6" stroke="#1d1d1d" stroke-width="0.9"/>
<line x1="676.4" y1="829.8" x2="693.2" y2="829.8" stroke="#1d1d1d" stroke-width="0.9"/>
<line x1="676.4" y1="835.4" x2="693.2" y2="835.4" stroke="#1d1d1d" stroke-width="0.9"/>
<line x1="676.4" y1="837.8" x2="693.2" y2="837.8" stroke="#1d1d1d" stroke-width="0.9"/>
<path d="M675,810 H692.7 Q696.8,810 696.8,814.1 V858.4 Q696.8,862.5 692.7,862.5 H675 Q673.4,862.5 673.4,860.8 Q673.4,859.1 675,859.1 H691.6 Q693.3,859.1 693.3,857.4 V815.1 Q693.3,813.4 691.6,813.4 H675 Q673.4,813.4 673.4,811.7 Q673.4,810 675,810 Z" fill="#fff" stroke="#1d1d1d" stroke-width="1.2"/>
<path d="M696.8,824.2 H698.2 Q701,827 701,831 Q701,835 698.2,837.8 H696.8" fill="#fff" stroke="#1d1d1d" stroke-width="0.9"/>
<text x="385" y="971" font-size="16" text-anchor="middle" fill="#2a2a2a" textLength="56.4" lengthAdjust="spacingAndGlyphs" stroke="#2a2a2a" stroke-width="0.2">Side View</text>
<line x1="355.6" y1="976" x2="427.6" y2="976" stroke="#1d1d1d" stroke-width="1.1"/>
</g>
</svg>
</body>
</html>
